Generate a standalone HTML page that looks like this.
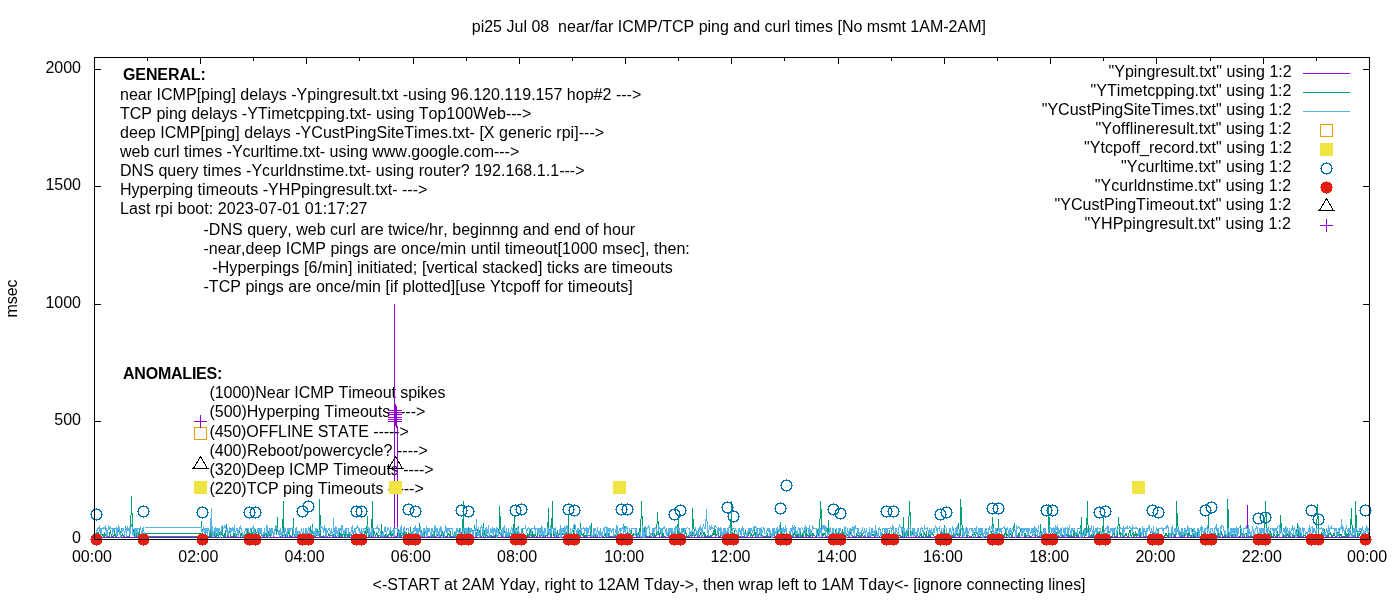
<!DOCTYPE html><html><head><meta charset="utf-8"><style>html,body{margin:0;padding:0;background:#fff;width:1400px;height:600px;overflow:hidden}text{font-family:"Liberation Sans",sans-serif;font-kerning:none;font-feature-settings:"kern" 0}</style></head><body><svg width="1400" height="600" viewBox="0 0 1400 600" style="position:absolute;left:0;top:0;will-change:transform"><defs><path id="mc" d="M0,-6h1v1h-1zM-3,-5h7v1h-7zM-4,-4h2v1h-2zM3,-4h2v1h-2zM-5,-3h2v1h-2zM4,-3h2v1h-2zM-5,-2h1v1h-1zM5,-2h1v1h-1zM-5,-1h1v1h-1zM5,-1h1v1h-1zM-6,0h2v1h-2zM5,0h2v1h-2zM-5,1h1v1h-1zM5,1h1v1h-1zM-5,2h1v1h-1zM5,2h1v1h-1zM-5,3h2v1h-2zM4,3h2v1h-2zM-4,4h2v1h-2zM3,4h2v1h-2zM-3,5h7v1h-7zM0,6h1v1h-1z" fill="#0072b2"/><path id="md" d="M0,-6h1v1h-1zM-3,-5h7v1h-7zM-4,-4h9v1h-9zM-5,-3h11v1h-11zM-5,-2h11v1h-11zM-5,-1h11v1h-11zM-6,0h13v1h-13zM-5,1h11v1h-11zM-5,2h11v1h-11zM-5,3h11v1h-11zM-4,4h9v1h-9zM-3,5h7v1h-7zM0,6h1v1h-1z" fill="#e51e10"/><path id="mfs" d="M-6,-6h13v1h-13zM-6,-5h13v1h-13zM-6,-4h13v1h-13zM-6,-3h13v1h-13zM-6,-2h13v1h-13zM-6,-1h13v1h-13zM-6,0h13v1h-13zM-6,1h13v1h-13zM-6,2h13v1h-13zM-6,3h13v1h-13zM-6,4h13v1h-13zM-6,5h13v1h-13zM-6,6h13v1h-13z" fill="#f0e442"/><path id="mos" d="M-6,-6h13v1h-13zM-6,-5h1v1h-1zM6,-5h1v1h-1zM-6,-4h1v1h-1zM6,-4h1v1h-1zM-6,-3h1v1h-1zM6,-3h1v1h-1zM-6,-2h1v1h-1zM6,-2h1v1h-1zM-6,-1h1v1h-1zM6,-1h1v1h-1zM-6,0h1v1h-1zM6,0h1v1h-1zM-6,1h1v1h-1zM6,1h1v1h-1zM-6,2h1v1h-1zM6,2h1v1h-1zM-6,3h1v1h-1zM6,3h1v1h-1zM-6,4h1v1h-1zM6,4h1v1h-1zM-6,5h1v1h-1zM6,5h1v1h-1zM-6,6h13v1h-13z" fill="#e69f00"/><path id="mp" d="M0,-6h1v1h-1zM0,-5h1v1h-1zM0,-4h1v1h-1zM0,-3h1v1h-1zM0,-2h1v1h-1zM0,-1h1v1h-1zM-6,0h13v1h-13zM0,1h1v1h-1zM0,2h1v1h-1zM0,3h1v1h-1zM0,4h1v1h-1zM0,5h1v1h-1zM0,6h1v1h-1z" fill="#9400d3"/><path id="mt" d="M0.5,-7.5 L-6.5,4.5 M0.5,-7.5 L7.5,4.5 M-8,4.5 L9,4.5" stroke="#000" stroke-width="1" fill="none"/></defs><text x="123.00" y="80.00" font-family="Liberation Sans" font-size="16" font-weight="bold" textLength="82.86" lengthAdjust="spacing" xml:space="preserve">GENERAL:</text><text x="120.00" y="99.50" font-family="Liberation Sans" font-size="16" textLength="521.26" lengthAdjust="spacing" xml:space="preserve">near ICMP[ping] delays -Ypingresult.txt -using 96.120.119.157 hop#2 ---&gt;</text><text x="120.00" y="118.65" font-family="Liberation Sans" font-size="16" textLength="411.28" lengthAdjust="spacing" xml:space="preserve">TCP ping delays -YTimetcpping.txt- using Top100Web---&gt;</text><text x="120.00" y="137.80" font-family="Liberation Sans" font-size="16" textLength="484.12" lengthAdjust="spacing" xml:space="preserve">deep ICMP[ping] delays -YCustPingSiteTimes.txt- [X generic rpi]---&gt;</text><text x="120.00" y="156.95" font-family="Liberation Sans" font-size="16" textLength="399.27" lengthAdjust="spacing" xml:space="preserve">web curl times -Ycurltime.txt- using www.google.com---&gt;</text><text x="120.00" y="176.10" font-family="Liberation Sans" font-size="16" textLength="464.57" lengthAdjust="spacing" xml:space="preserve">DNS query times -Ycurldnstime.txt- using router? 192.168.1.1---&gt;</text><text x="120.00" y="195.25" font-family="Liberation Sans" font-size="16" textLength="307.33" lengthAdjust="spacing" xml:space="preserve">Hyperping timeouts -YHPpingresult.txt- ---&gt;</text><text x="120.00" y="214.40" font-family="Liberation Sans" font-size="16" textLength="247.52" lengthAdjust="spacing" xml:space="preserve">Last rpi boot: 2023-07-01 01:17:27</text><text x="203.50" y="234.55" font-family="Liberation Sans" font-size="16" textLength="431.67" lengthAdjust="spacing" xml:space="preserve">-DNS query, web curl are twice/hr, beginnng and end of hour</text><text x="203.50" y="253.70" font-family="Liberation Sans" font-size="16" textLength="486.31" lengthAdjust="spacing" xml:space="preserve">-near,deep ICMP pings are once/min until timeout[1000 msec], then:</text><text x="212.30" y="272.85" font-family="Liberation Sans" font-size="16" textLength="460.40" lengthAdjust="spacing" xml:space="preserve">-Hyperpings [6/min] initiated; [vertical stacked] ticks are timeouts</text><text x="203.50" y="292.00" font-family="Liberation Sans" font-size="16" textLength="429.25" lengthAdjust="spacing" xml:space="preserve">-TCP pings are once/min [if plotted][use Ytcpoff for timeouts]</text><text x="123.00" y="379.00" font-family="Liberation Sans" font-size="16" font-weight="bold" textLength="99.33" lengthAdjust="spacing" xml:space="preserve">ANOMALIES:</text><text x="209.40" y="398.20" font-family="Liberation Sans" font-size="16" textLength="236.02" lengthAdjust="spacing" xml:space="preserve">(1000)Near ICMP Timeout spikes</text><text x="209.40" y="417.40" font-family="Liberation Sans" font-size="16" textLength="215.92" lengthAdjust="spacing" xml:space="preserve">(500)Hyperping Timeouts ----&gt;</text><text x="209.40" y="436.60" font-family="Liberation Sans" font-size="16" textLength="199.36" lengthAdjust="spacing" xml:space="preserve">(450)OFFLINE STATE -----&gt;</text><text x="209.40" y="455.80" font-family="Liberation Sans" font-size="16" textLength="218.32" lengthAdjust="spacing" xml:space="preserve">(400)Reboot/powercycle? ----&gt;</text><text x="209.40" y="475.00" font-family="Liberation Sans" font-size="16" textLength="224.29" lengthAdjust="spacing" xml:space="preserve">(320)Deep ICMP Timeouts ----&gt;</text><text x="209.40" y="494.20" font-family="Liberation Sans" font-size="16" textLength="214.32" lengthAdjust="spacing" xml:space="preserve">(220)TCP ping Timeouts -----&gt;</text><path d="M95,537.5 L1369,537.5" stroke="#9400d3" stroke-width="1" fill="none" shape-rendering="crispEdges"/><path d="M394.5,537.5 L394.5,304 M397.5,537.5 L397.5,426" stroke="#9400d3" stroke-width="1" fill="none" shape-rendering="crispEdges"/><path d="M1247.5,537.5 L1247.5,505" stroke="#9400d3" stroke-width="1" fill="none" shape-rendering="crispEdges"/><path d="M201.5,521.5 L202.5,535.5 L202.5,534.5 L203.5,535.5 L204.5,532.5 L204.5,534.5 L205.5,536.5 L205.5,536.5 L206.5,536.5 L207.5,535.5 L207.5,535.5 L208.5,536.5 L208.5,536.5 L209.5,536.5 L210.5,530.5 L210.5,536.5 L211.5,536.5 L211.5,533.5 L212.5,533.5 L212.5,536.5 L213.5,533.5 L214.5,536.5 L214.5,532.5 L215.5,536.5 L215.5,529.5 L216.5,536.5 L217.5,534.5 L217.5,533.5 L218.5,536.5 L218.5,536.5 L219.5,533.5 L220.5,536.5 L220.5,535.5 L221.5,534.5 L221.5,534.5 L222.5,529.5 L222.5,534.5 L223.5,536.5 L224.5,533.5 L224.5,536.5 L225.5,536.5 L225.5,535.5 L226.5,524.5 L227.5,534.5 L227.5,536.5 L228.5,534.5 L228.5,536.5 L229.5,530.5 L230.5,535.5 L230.5,536.5 L231.5,536.5 L231.5,536.5 L232.5,536.5 L233.5,536.5 L233.5,534.5 L234.5,533.5 L234.5,536.5 L235.5,536.5 L235.5,536.5 L236.5,536.5 L237.5,531.5 L237.5,532.5 L238.5,530.5 L238.5,536.5 L239.5,529.5 L240.5,536.5 L240.5,536.5 L241.5,533.5 L241.5,534.5 L242.5,536.5 L243.5,534.5 L243.5,536.5 L244.5,535.5 L244.5,536.5 L245.5,536.5 L246.5,531.5 L246.5,536.5 L247.5,528.5 L247.5,536.5 L248.5,532.5 L248.5,529.5 L249.5,535.5 L250.5,533.5 L250.5,536.5 L251.5,529.5 L251.5,536.5 L252.5,533.5 L253.5,536.5 L253.5,528.5 L254.5,536.5 L254.5,529.5 L255.5,529.5 L256.5,535.5 L256.5,536.5 L257.5,535.5 L257.5,536.5 L258.5,532.5 L259.5,532.5 L259.5,535.5 L260.5,536.5 L260.5,536.5 L261.5,535.5 L261.5,535.5 L262.5,536.5 L263.5,534.5 L263.5,536.5 L264.5,536.5 L264.5,533.5 L265.5,534.5 L266.5,536.5 L266.5,533.5 L267.5,536.5 L267.5,535.5 L268.5,532.5 L269.5,529.5 L269.5,535.5 L270.5,529.5 L270.5,536.5 L271.5,535.5 L271.5,534.5 L272.5,531.5 L273.5,533.5 L273.5,536.5 L274.5,533.5 L274.5,534.5 L275.5,527.5 L276.5,534.5 L276.5,534.5 L277.5,517.5 L277.5,530.5 L278.5,533.5 L279.5,535.5 L279.5,536.5 L280.5,536.5 L280.5,536.5 L281.5,535.5 L282.5,536.5 L282.5,536.5 L283.5,501.5 L283.5,528.5 L284.5,536.5 L284.5,530.5 L285.5,536.5 L286.5,536.5 L286.5,536.5 L287.5,536.5 L287.5,535.5 L288.5,531.5 L289.5,529.5 L289.5,536.5 L290.5,536.5 L290.5,535.5 L291.5,536.5 L292.5,536.5 L292.5,536.5 L293.5,518.5 L293.5,532.5 L294.5,536.5 L295.5,536.5 L295.5,534.5 L296.5,534.5 L296.5,536.5 L297.5,536.5 L297.5,532.5 L298.5,536.5 L299.5,536.5 L299.5,532.5 L300.5,536.5 L300.5,536.5 L301.5,536.5 L302.5,535.5 L302.5,536.5 L303.5,536.5 L303.5,531.5 L304.5,536.5 L305.5,535.5 L305.5,533.5 L306.5,534.5 L306.5,530.5 L307.5,536.5 L308.5,536.5 L308.5,536.5 L309.5,533.5 L309.5,535.5 L310.5,526.5 L310.5,535.5 L311.5,531.5 L312.5,533.5 L312.5,524.5 L313.5,536.5 L313.5,536.5 L314.5,536.5 L315.5,534.5 L315.5,536.5 L316.5,534.5 L316.5,535.5 L317.5,529.5 L318.5,533.5 L318.5,535.5 L319.5,536.5 L319.5,499.5 L320.5,529.5 L320.5,536.5 L321.5,536.5 L322.5,536.5 L322.5,536.5 L323.5,536.5 L323.5,535.5 L324.5,536.5 L325.5,535.5 L325.5,534.5 L326.5,536.5 L326.5,536.5 L327.5,536.5 L328.5,535.5 L328.5,533.5 L329.5,535.5 L329.5,536.5 L330.5,535.5 L331.5,535.5 L331.5,535.5 L332.5,535.5 L332.5,536.5 L333.5,536.5 L333.5,534.5 L334.5,535.5 L335.5,532.5 L335.5,536.5 L336.5,536.5 L336.5,536.5 L337.5,535.5 L338.5,534.5 L338.5,536.5 L339.5,536.5 L339.5,529.5 L340.5,536.5 L341.5,536.5 L341.5,533.5 L342.5,536.5 L342.5,536.5 L343.5,532.5 L344.5,536.5 L344.5,536.5 L345.5,536.5 L345.5,534.5 L346.5,529.5 L346.5,533.5 L347.5,536.5 L348.5,532.5 L348.5,536.5 L349.5,532.5 L349.5,536.5 L350.5,535.5 L351.5,536.5 L351.5,534.5 L352.5,536.5 L352.5,536.5 L353.5,535.5 L354.5,536.5 L354.5,535.5 L355.5,534.5 L355.5,535.5 L356.5,536.5 L356.5,535.5 L357.5,534.5 L358.5,536.5 L358.5,536.5 L359.5,536.5 L359.5,536.5 L360.5,536.5 L361.5,533.5 L361.5,533.5 L362.5,535.5 L362.5,534.5 L363.5,536.5 L364.5,531.5 L364.5,533.5 L365.5,533.5 L365.5,531.5 L366.5,536.5 L367.5,516.5 L367.5,532.5 L368.5,533.5 L368.5,536.5 L369.5,536.5 L369.5,535.5 L370.5,535.5 L371.5,535.5 L371.5,536.5 L372.5,501.5 L372.5,521.5 L373.5,536.5 L374.5,531.5 L374.5,533.5 L375.5,534.5 L375.5,536.5 L376.5,533.5 L377.5,536.5 L377.5,533.5 L378.5,536.5 L378.5,536.5 L379.5,535.5 L380.5,536.5 L380.5,534.5 L381.5,535.5 L381.5,524.5 L382.5,536.5 L382.5,536.5 L383.5,534.5 L384.5,536.5 L384.5,535.5 L385.5,534.5 L385.5,536.5 L386.5,536.5 L387.5,536.5 L387.5,536.5 L388.5,534.5 L388.5,536.5 L389.5,533.5 L390.5,535.5 L390.5,530.5 L391.5,533.5 L391.5,536.5 L392.5,535.5 L393.5,530.5 L393.5,536.5 L394.5,534.5 L394.5,536.5 L395.5,536.5 L395.5,536.5 L396.5,536.5 L397.5,536.5 L397.5,536.5 L398.5,535.5 L398.5,529.5 L399.5,536.5 L400.5,533.5 L400.5,536.5 L401.5,536.5 L401.5,536.5 L402.5,533.5 L403.5,536.5 L403.5,531.5 L404.5,532.5 L404.5,536.5 L405.5,536.5 L405.5,536.5 L406.5,533.5 L407.5,536.5 L407.5,536.5 L408.5,534.5 L408.5,532.5 L409.5,534.5 L410.5,536.5 L410.5,527.5 L411.5,536.5 L411.5,535.5 L412.5,536.5 L413.5,532.5 L413.5,534.5 L414.5,536.5 L414.5,534.5 L415.5,535.5 L416.5,533.5 L416.5,534.5 L417.5,534.5 L417.5,536.5 L418.5,535.5 L418.5,536.5 L419.5,523.5 L420.5,533.5 L420.5,533.5 L421.5,535.5 L421.5,530.5 L422.5,536.5 L423.5,530.5 L423.5,534.5 L424.5,531.5 L424.5,536.5 L425.5,531.5 L426.5,536.5 L426.5,535.5 L427.5,536.5 L427.5,535.5 L428.5,536.5 L429.5,536.5 L429.5,536.5 L430.5,536.5 L430.5,533.5 L431.5,536.5 L431.5,534.5 L432.5,536.5 L433.5,532.5 L433.5,536.5 L434.5,530.5 L434.5,536.5 L435.5,536.5 L436.5,536.5 L436.5,536.5 L437.5,534.5 L437.5,534.5 L438.5,534.5 L439.5,530.5 L439.5,535.5 L440.5,536.5 L440.5,535.5 L441.5,535.5 L442.5,531.5 L442.5,531.5 L443.5,536.5 L443.5,536.5 L444.5,536.5 L444.5,536.5 L445.5,536.5 L446.5,536.5 L446.5,536.5 L447.5,536.5 L447.5,533.5 L448.5,533.5 L449.5,536.5 L449.5,536.5 L450.5,531.5 L450.5,536.5 L451.5,536.5 L452.5,536.5 L452.5,536.5 L453.5,535.5 L453.5,536.5 L454.5,532.5 L454.5,533.5 L455.5,536.5 L456.5,533.5 L456.5,530.5 L457.5,536.5 L457.5,536.5 L458.5,536.5 L459.5,528.5 L459.5,536.5 L460.5,536.5 L460.5,536.5 L461.5,533.5 L462.5,535.5 L462.5,536.5 L463.5,501.5 L463.5,523.5 L464.5,536.5 L465.5,535.5 L465.5,532.5 L466.5,536.5 L466.5,536.5 L467.5,532.5 L467.5,536.5 L468.5,527.5 L469.5,531.5 L469.5,534.5 L470.5,536.5 L470.5,536.5 L471.5,528.5 L472.5,535.5 L472.5,530.5 L473.5,536.5 L473.5,535.5 L474.5,525.5 L475.5,536.5 L475.5,536.5 L476.5,536.5 L476.5,533.5 L477.5,530.5 L478.5,535.5 L478.5,529.5 L479.5,530.5 L479.5,536.5 L480.5,534.5 L480.5,536.5 L481.5,536.5 L482.5,535.5 L482.5,529.5 L483.5,536.5 L483.5,523.5 L484.5,536.5 L485.5,536.5 L485.5,535.5 L486.5,535.5 L486.5,533.5 L487.5,536.5 L488.5,536.5 L488.5,536.5 L489.5,536.5 L489.5,534.5 L490.5,536.5 L491.5,536.5 L491.5,535.5 L492.5,536.5 L492.5,536.5 L493.5,536.5 L493.5,533.5 L494.5,536.5 L495.5,536.5 L495.5,533.5 L496.5,536.5 L496.5,534.5 L497.5,536.5 L498.5,534.5 L498.5,529.5 L499.5,533.5 L499.5,506.5 L500.5,525.5 L501.5,533.5 L501.5,536.5 L502.5,536.5 L502.5,530.5 L503.5,533.5 L503.5,536.5 L504.5,529.5 L505.5,536.5 L505.5,532.5 L506.5,533.5 L506.5,536.5 L507.5,536.5 L508.5,536.5 L508.5,532.5 L509.5,536.5 L509.5,534.5 L510.5,532.5 L511.5,534.5 L511.5,535.5 L512.5,536.5 L512.5,536.5 L513.5,531.5 L514.5,516.5 L514.5,531.5 L515.5,536.5 L515.5,536.5 L516.5,536.5 L516.5,528.5 L517.5,536.5 L518.5,526.5 L518.5,533.5 L519.5,534.5 L519.5,533.5 L520.5,533.5 L521.5,535.5 L521.5,536.5 L522.5,530.5 L522.5,529.5 L523.5,536.5 L524.5,536.5 L524.5,534.5 L525.5,536.5 L525.5,536.5 L526.5,535.5 L527.5,536.5 L527.5,533.5 L528.5,534.5 L528.5,536.5 L529.5,536.5 L529.5,535.5 L530.5,529.5 L531.5,536.5 L531.5,534.5 L532.5,536.5 L532.5,531.5 L533.5,536.5 L534.5,535.5 L534.5,536.5 L535.5,532.5 L535.5,535.5 L536.5,536.5 L537.5,535.5 L537.5,536.5 L538.5,528.5 L538.5,531.5 L539.5,536.5 L540.5,536.5 L540.5,534.5 L541.5,532.5 L541.5,535.5 L542.5,533.5 L542.5,536.5 L543.5,536.5 L544.5,530.5 L544.5,533.5 L545.5,536.5 L545.5,536.5 L546.5,535.5 L547.5,536.5 L547.5,536.5 L548.5,508.5 L548.5,522.5 L549.5,534.5 L550.5,531.5 L550.5,536.5 L551.5,536.5 L551.5,534.5 L552.5,501.5 L552.5,520.5 L553.5,534.5 L554.5,536.5 L554.5,533.5 L555.5,530.5 L555.5,533.5 L556.5,536.5 L557.5,530.5 L557.5,536.5 L558.5,536.5 L558.5,536.5 L559.5,533.5 L560.5,534.5 L560.5,533.5 L561.5,528.5 L561.5,535.5 L562.5,534.5 L563.5,531.5 L563.5,534.5 L564.5,535.5 L564.5,533.5 L565.5,536.5 L565.5,533.5 L566.5,535.5 L567.5,529.5 L567.5,536.5 L568.5,516.5 L568.5,533.5 L569.5,534.5 L570.5,536.5 L570.5,535.5 L571.5,536.5 L571.5,536.5 L572.5,536.5 L573.5,535.5 L573.5,535.5 L574.5,524.5 L574.5,535.5 L575.5,534.5 L576.5,534.5 L576.5,536.5 L577.5,536.5 L577.5,529.5 L578.5,536.5 L578.5,529.5 L579.5,536.5 L580.5,523.5 L580.5,536.5 L581.5,532.5 L581.5,533.5 L582.5,535.5 L583.5,536.5 L583.5,533.5 L584.5,536.5 L584.5,536.5 L585.5,536.5 L586.5,534.5 L586.5,536.5 L587.5,533.5 L587.5,536.5 L588.5,535.5 L588.5,535.5 L589.5,535.5 L590.5,534.5 L590.5,536.5 L591.5,523.5 L591.5,534.5 L592.5,536.5 L593.5,534.5 L593.5,536.5 L594.5,536.5 L594.5,530.5 L595.5,536.5 L596.5,533.5 L596.5,536.5 L597.5,536.5 L597.5,536.5 L598.5,533.5 L599.5,534.5 L599.5,536.5 L600.5,534.5 L600.5,534.5 L601.5,536.5 L601.5,536.5 L602.5,536.5 L603.5,536.5 L603.5,536.5 L604.5,535.5 L604.5,534.5 L605.5,536.5 L606.5,529.5 L606.5,536.5 L607.5,531.5 L607.5,528.5 L608.5,536.5 L609.5,536.5 L609.5,536.5 L610.5,536.5 L610.5,536.5 L611.5,536.5 L612.5,536.5 L612.5,536.5 L613.5,535.5 L613.5,536.5 L614.5,536.5 L614.5,536.5 L615.5,536.5 L616.5,534.5 L616.5,534.5 L617.5,536.5 L617.5,530.5 L618.5,532.5 L619.5,536.5 L619.5,536.5 L620.5,531.5 L620.5,536.5 L621.5,536.5 L622.5,535.5 L622.5,536.5 L623.5,533.5 L623.5,524.5 L624.5,528.5 L625.5,529.5 L625.5,533.5 L626.5,536.5 L626.5,536.5 L627.5,529.5 L627.5,536.5 L628.5,536.5 L629.5,536.5 L629.5,533.5 L630.5,533.5 L630.5,536.5 L631.5,530.5 L632.5,536.5 L632.5,534.5 L633.5,533.5 L633.5,535.5 L634.5,534.5 L635.5,534.5 L635.5,529.5 L636.5,534.5 L636.5,536.5 L637.5,533.5 L637.5,536.5 L638.5,536.5 L639.5,528.5 L639.5,536.5 L640.5,534.5 L640.5,536.5 L641.5,501.5 L642.5,529.5 L642.5,534.5 L643.5,536.5 L643.5,536.5 L644.5,527.5 L645.5,534.5 L645.5,536.5 L646.5,529.5 L646.5,536.5 L647.5,536.5 L648.5,536.5 L648.5,536.5 L649.5,535.5 L649.5,536.5 L650.5,533.5 L650.5,536.5 L651.5,536.5 L652.5,535.5 L652.5,533.5 L653.5,536.5 L653.5,529.5 L654.5,536.5 L655.5,536.5 L655.5,536.5 L656.5,534.5 L656.5,535.5 L657.5,512.5 L658.5,528.5 L658.5,534.5 L659.5,533.5 L659.5,536.5 L660.5,530.5 L661.5,536.5 L661.5,536.5 L662.5,536.5 L662.5,528.5 L663.5,536.5 L663.5,536.5 L664.5,536.5 L665.5,536.5 L665.5,536.5 L666.5,535.5 L666.5,535.5 L667.5,533.5 L668.5,536.5 L668.5,533.5 L669.5,536.5 L669.5,536.5 L670.5,528.5 L671.5,534.5 L671.5,536.5 L672.5,536.5 L672.5,535.5 L673.5,536.5 L674.5,535.5 L674.5,535.5 L675.5,536.5 L675.5,536.5 L676.5,536.5 L676.5,536.5 L677.5,532.5 L678.5,516.5 L678.5,535.5 L679.5,536.5 L679.5,531.5 L680.5,535.5 L681.5,535.5 L681.5,535.5 L682.5,536.5 L682.5,536.5 L683.5,528.5 L684.5,533.5 L684.5,536.5 L685.5,531.5 L685.5,528.5 L686.5,536.5 L686.5,535.5 L687.5,536.5 L688.5,536.5 L688.5,535.5 L689.5,536.5 L689.5,529.5 L690.5,534.5 L691.5,532.5 L691.5,536.5 L692.5,534.5 L692.5,508.5 L693.5,528.5 L694.5,529.5 L694.5,536.5 L695.5,535.5 L695.5,535.5 L696.5,533.5 L697.5,536.5 L697.5,531.5 L698.5,536.5 L698.5,536.5 L699.5,536.5 L699.5,536.5 L700.5,533.5 L701.5,536.5 L701.5,534.5 L702.5,536.5 L702.5,536.5 L703.5,533.5 L704.5,536.5 L704.5,532.5 L705.5,536.5 L705.5,535.5 L706.5,536.5 L707.5,536.5 L707.5,535.5 L708.5,536.5 L708.5,536.5 L709.5,536.5 L710.5,536.5 L710.5,535.5 L711.5,536.5 L711.5,536.5 L712.5,533.5 L712.5,535.5 L713.5,534.5 L714.5,526.5 L714.5,534.5 L715.5,529.5 L715.5,536.5 L716.5,534.5 L717.5,533.5 L717.5,529.5 L718.5,536.5 L718.5,536.5 L719.5,536.5 L720.5,536.5 L720.5,535.5 L721.5,533.5 L721.5,532.5 L722.5,536.5 L723.5,530.5 L723.5,536.5 L724.5,536.5 L724.5,536.5 L725.5,532.5 L725.5,534.5 L726.5,535.5 L727.5,535.5 L727.5,536.5 L728.5,530.5 L728.5,536.5 L729.5,536.5 L730.5,534.5 L730.5,536.5 L731.5,501.5 L731.5,528.5 L732.5,535.5 L733.5,533.5 L733.5,536.5 L734.5,536.5 L734.5,530.5 L735.5,536.5 L735.5,534.5 L736.5,536.5 L737.5,536.5 L737.5,534.5 L738.5,532.5 L738.5,536.5 L739.5,536.5 L740.5,536.5 L740.5,536.5 L741.5,536.5 L741.5,536.5 L742.5,536.5 L743.5,536.5 L743.5,536.5 L744.5,536.5 L744.5,534.5 L745.5,530.5 L746.5,536.5 L746.5,534.5 L747.5,536.5 L747.5,532.5 L748.5,534.5 L748.5,535.5 L749.5,530.5 L750.5,536.5 L750.5,536.5 L751.5,534.5 L751.5,534.5 L752.5,536.5 L753.5,535.5 L753.5,534.5 L754.5,534.5 L754.5,527.5 L755.5,536.5 L756.5,536.5 L756.5,533.5 L757.5,533.5 L757.5,533.5 L758.5,536.5 L759.5,531.5 L759.5,534.5 L760.5,532.5 L760.5,536.5 L761.5,531.5 L761.5,534.5 L762.5,536.5 L763.5,536.5 L763.5,536.5 L764.5,536.5 L764.5,536.5 L765.5,536.5 L766.5,536.5 L766.5,536.5 L767.5,533.5 L767.5,536.5 L768.5,536.5 L769.5,536.5 L769.5,534.5 L770.5,536.5 L770.5,534.5 L771.5,535.5 L772.5,536.5 L772.5,534.5 L773.5,535.5 L773.5,530.5 L774.5,536.5 L774.5,536.5 L775.5,536.5 L776.5,536.5 L776.5,533.5 L777.5,529.5 L777.5,536.5 L778.5,536.5 L779.5,536.5 L779.5,536.5 L780.5,536.5 L780.5,522.5 L781.5,533.5 L782.5,536.5 L782.5,531.5 L783.5,534.5 L783.5,536.5 L784.5,536.5 L784.5,534.5 L785.5,536.5 L786.5,536.5 L786.5,535.5 L787.5,536.5 L787.5,536.5 L788.5,536.5 L789.5,536.5 L789.5,536.5 L790.5,531.5 L790.5,536.5 L791.5,535.5 L792.5,536.5 L792.5,533.5 L793.5,536.5 L793.5,533.5 L794.5,534.5 L795.5,527.5 L795.5,536.5 L796.5,536.5 L796.5,534.5 L797.5,534.5 L797.5,536.5 L798.5,536.5 L799.5,532.5 L799.5,536.5 L800.5,532.5 L800.5,536.5 L801.5,536.5 L802.5,533.5 L802.5,536.5 L803.5,536.5 L803.5,535.5 L804.5,529.5 L805.5,536.5 L805.5,534.5 L806.5,529.5 L806.5,536.5 L807.5,534.5 L808.5,535.5 L808.5,536.5 L809.5,533.5 L809.5,536.5 L810.5,536.5 L810.5,533.5 L811.5,534.5 L812.5,536.5 L812.5,533.5 L813.5,533.5 L813.5,535.5 L814.5,535.5 L815.5,536.5 L815.5,536.5 L816.5,536.5 L816.5,535.5 L817.5,529.5 L818.5,535.5 L818.5,535.5 L819.5,535.5 L819.5,536.5 L820.5,501.5 L821.5,516.5 L821.5,536.5 L822.5,533.5 L822.5,536.5 L823.5,534.5 L823.5,533.5 L824.5,533.5 L825.5,536.5 L825.5,535.5 L826.5,536.5 L826.5,536.5 L827.5,535.5 L828.5,520.5 L828.5,532.5 L829.5,536.5 L829.5,533.5 L830.5,534.5 L831.5,536.5 L831.5,535.5 L832.5,533.5 L832.5,534.5 L833.5,530.5 L833.5,534.5 L834.5,535.5 L835.5,535.5 L835.5,529.5 L836.5,534.5 L836.5,536.5 L837.5,536.5 L838.5,532.5 L838.5,530.5 L839.5,536.5 L839.5,534.5 L840.5,536.5 L841.5,536.5 L841.5,536.5 L842.5,529.5 L842.5,536.5 L843.5,533.5 L844.5,535.5 L844.5,534.5 L845.5,531.5 L845.5,536.5 L846.5,536.5 L846.5,536.5 L847.5,534.5 L848.5,535.5 L848.5,536.5 L849.5,535.5 L849.5,536.5 L850.5,532.5 L851.5,529.5 L851.5,533.5 L852.5,536.5 L852.5,536.5 L853.5,536.5 L854.5,535.5 L854.5,536.5 L855.5,536.5 L855.5,536.5 L856.5,536.5 L857.5,530.5 L857.5,534.5 L858.5,536.5 L858.5,536.5 L859.5,536.5 L859.5,534.5 L860.5,536.5 L861.5,536.5 L861.5,531.5 L862.5,535.5 L862.5,535.5 L863.5,536.5 L864.5,535.5 L864.5,536.5 L865.5,536.5 L865.5,533.5 L866.5,530.5 L867.5,533.5 L867.5,536.5 L868.5,534.5 L868.5,536.5 L869.5,536.5 L869.5,531.5 L870.5,535.5 L871.5,532.5 L871.5,534.5 L872.5,535.5 L872.5,534.5 L873.5,535.5 L874.5,533.5 L874.5,536.5 L875.5,529.5 L875.5,536.5 L876.5,531.5 L877.5,535.5 L877.5,536.5 L878.5,536.5 L878.5,536.5 L879.5,536.5 L880.5,535.5 L880.5,529.5 L881.5,536.5 L881.5,534.5 L882.5,536.5 L882.5,533.5 L883.5,536.5 L884.5,535.5 L884.5,536.5 L885.5,534.5 L885.5,533.5 L886.5,535.5 L887.5,536.5 L887.5,536.5 L888.5,536.5 L888.5,534.5 L889.5,531.5 L890.5,536.5 L890.5,536.5 L891.5,533.5 L891.5,533.5 L892.5,535.5 L893.5,536.5 L893.5,536.5 L894.5,536.5 L894.5,534.5 L895.5,536.5 L895.5,534.5 L896.5,536.5 L897.5,536.5 L897.5,534.5 L898.5,536.5 L898.5,535.5 L899.5,534.5 L900.5,536.5 L900.5,536.5 L901.5,536.5 L901.5,536.5 L902.5,536.5 L903.5,517.5 L903.5,526.5 L904.5,536.5 L904.5,533.5 L905.5,532.5 L906.5,536.5 L906.5,530.5 L907.5,534.5 L907.5,534.5 L908.5,536.5 L908.5,532.5 L909.5,501.5 L910.5,522.5 L910.5,535.5 L911.5,536.5 L911.5,534.5 L912.5,534.5 L913.5,530.5 L913.5,536.5 L914.5,535.5 L914.5,533.5 L915.5,536.5 L916.5,536.5 L916.5,536.5 L917.5,529.5 L917.5,535.5 L918.5,536.5 L918.5,536.5 L919.5,536.5 L920.5,534.5 L920.5,530.5 L921.5,535.5 L921.5,536.5 L922.5,536.5 L923.5,536.5 L923.5,536.5 L924.5,533.5 L924.5,533.5 L925.5,536.5 L926.5,531.5 L926.5,536.5 L927.5,536.5 L927.5,536.5 L928.5,536.5 L929.5,528.5 L929.5,536.5 L930.5,534.5 L930.5,536.5 L931.5,533.5 L931.5,529.5 L932.5,534.5 L933.5,534.5 L933.5,535.5 L934.5,536.5 L934.5,536.5 L935.5,536.5 L936.5,535.5 L936.5,536.5 L937.5,536.5 L937.5,533.5 L938.5,536.5 L939.5,535.5 L939.5,536.5 L940.5,536.5 L940.5,531.5 L941.5,533.5 L942.5,536.5 L942.5,534.5 L943.5,534.5 L943.5,534.5 L944.5,525.5 L944.5,535.5 L945.5,533.5 L946.5,532.5 L946.5,536.5 L947.5,534.5 L947.5,534.5 L948.5,536.5 L949.5,536.5 L949.5,536.5 L950.5,536.5 L950.5,536.5 L951.5,535.5 L952.5,536.5 L952.5,536.5 L953.5,533.5 L953.5,536.5 L954.5,536.5 L955.5,536.5 L955.5,531.5 L956.5,533.5 L956.5,534.5 L957.5,535.5 L957.5,535.5 L958.5,523.5 L959.5,534.5 L959.5,536.5 L960.5,535.5 L960.5,499.5 L961.5,513.5 L962.5,536.5 L962.5,536.5 L963.5,532.5 L963.5,536.5 L964.5,533.5 L965.5,533.5 L965.5,531.5 L966.5,536.5 L966.5,535.5 L967.5,535.5 L967.5,536.5 L968.5,535.5 L969.5,536.5 L969.5,536.5 L970.5,536.5 L970.5,536.5 L971.5,536.5 L972.5,535.5 L972.5,534.5 L973.5,536.5 L973.5,536.5 L974.5,533.5 L975.5,536.5 L975.5,536.5 L976.5,531.5 L976.5,530.5 L977.5,534.5 L978.5,536.5 L978.5,535.5 L979.5,536.5 L979.5,536.5 L980.5,536.5 L980.5,535.5 L981.5,532.5 L982.5,536.5 L982.5,536.5 L983.5,536.5 L983.5,536.5 L984.5,536.5 L985.5,536.5 L985.5,536.5 L986.5,536.5 L986.5,536.5 L987.5,535.5 L988.5,536.5 L988.5,533.5 L989.5,534.5 L989.5,536.5 L990.5,536.5 L991.5,536.5 L991.5,532.5 L992.5,530.5 L992.5,517.5 L993.5,529.5 L993.5,532.5 L994.5,536.5 L995.5,535.5 L995.5,536.5 L996.5,536.5 L996.5,536.5 L997.5,536.5 L998.5,519.5 L998.5,529.5 L999.5,530.5 L999.5,533.5 L1000.5,530.5 L1001.5,533.5 L1001.5,536.5 L1002.5,535.5 L1002.5,534.5 L1003.5,535.5 L1004.5,536.5 L1004.5,533.5 L1005.5,534.5 L1005.5,529.5 L1006.5,536.5 L1006.5,536.5 L1007.5,535.5 L1008.5,533.5 L1008.5,534.5 L1009.5,536.5 L1009.5,536.5 L1010.5,533.5 L1011.5,533.5 L1011.5,536.5 L1012.5,536.5 L1012.5,535.5 L1013.5,528.5 L1014.5,523.5 L1014.5,529.5 L1015.5,532.5 L1015.5,536.5 L1016.5,533.5 L1016.5,536.5 L1017.5,536.5 L1018.5,533.5 L1018.5,536.5 L1019.5,536.5 L1019.5,535.5 L1020.5,528.5 L1021.5,533.5 L1021.5,531.5 L1022.5,531.5 L1022.5,534.5 L1023.5,529.5 L1024.5,536.5 L1024.5,534.5 L1025.5,536.5 L1025.5,533.5 L1026.5,536.5 L1027.5,535.5 L1027.5,535.5 L1028.5,530.5 L1028.5,534.5 L1029.5,535.5 L1029.5,536.5 L1030.5,536.5 L1031.5,536.5 L1031.5,536.5 L1032.5,535.5 L1032.5,533.5 L1033.5,534.5 L1034.5,535.5 L1034.5,536.5 L1035.5,536.5 L1035.5,534.5 L1036.5,535.5 L1037.5,535.5 L1037.5,536.5 L1038.5,536.5 L1038.5,536.5 L1039.5,536.5 L1040.5,533.5 L1040.5,524.5 L1041.5,536.5 L1041.5,536.5 L1042.5,534.5 L1042.5,536.5 L1043.5,536.5 L1044.5,536.5 L1044.5,536.5 L1045.5,536.5 L1045.5,534.5 L1046.5,533.5 L1047.5,534.5 L1047.5,536.5 L1048.5,535.5 L1048.5,504.5 L1049.5,529.5 L1050.5,536.5 L1050.5,533.5 L1051.5,534.5 L1051.5,536.5 L1052.5,536.5 L1053.5,533.5 L1053.5,536.5 L1054.5,532.5 L1054.5,531.5 L1055.5,536.5 L1055.5,535.5 L1056.5,533.5 L1057.5,536.5 L1057.5,533.5 L1058.5,536.5 L1058.5,536.5 L1059.5,536.5 L1060.5,535.5 L1060.5,535.5 L1061.5,534.5 L1061.5,532.5 L1062.5,536.5 L1063.5,535.5 L1063.5,536.5 L1064.5,536.5 L1064.5,534.5 L1065.5,536.5 L1065.5,535.5 L1066.5,534.5 L1067.5,536.5 L1067.5,534.5 L1068.5,536.5 L1068.5,534.5 L1069.5,536.5 L1070.5,536.5 L1070.5,534.5 L1071.5,535.5 L1071.5,536.5 L1072.5,536.5 L1073.5,536.5 L1073.5,530.5 L1074.5,534.5 L1074.5,536.5 L1075.5,533.5 L1076.5,534.5 L1076.5,536.5 L1077.5,536.5 L1077.5,535.5 L1078.5,536.5 L1078.5,536.5 L1079.5,532.5 L1080.5,529.5 L1080.5,532.5 L1081.5,517.5 L1081.5,530.5 L1082.5,536.5 L1083.5,530.5 L1083.5,534.5 L1084.5,536.5 L1084.5,536.5 L1085.5,534.5 L1086.5,522.5 L1086.5,535.5 L1087.5,501.5 L1087.5,513.5 L1088.5,536.5 L1089.5,531.5 L1089.5,536.5 L1090.5,536.5 L1090.5,535.5 L1091.5,536.5 L1091.5,534.5 L1092.5,536.5 L1093.5,536.5 L1093.5,536.5 L1094.5,531.5 L1094.5,536.5 L1095.5,536.5 L1096.5,533.5 L1096.5,534.5 L1097.5,536.5 L1097.5,533.5 L1098.5,533.5 L1099.5,531.5 L1099.5,536.5 L1100.5,536.5 L1100.5,536.5 L1101.5,536.5 L1101.5,536.5 L1102.5,536.5 L1103.5,516.5 L1103.5,531.5 L1104.5,536.5 L1104.5,532.5 L1105.5,536.5 L1106.5,534.5 L1106.5,533.5 L1107.5,536.5 L1107.5,530.5 L1108.5,529.5 L1109.5,535.5 L1109.5,536.5 L1110.5,536.5 L1110.5,536.5 L1111.5,536.5 L1112.5,536.5 L1112.5,535.5 L1113.5,534.5 L1113.5,534.5 L1114.5,531.5 L1114.5,536.5 L1115.5,536.5 L1116.5,536.5 L1116.5,536.5 L1117.5,536.5 L1117.5,535.5 L1118.5,517.5 L1119.5,530.5 L1119.5,533.5 L1120.5,536.5 L1120.5,532.5 L1121.5,533.5 L1122.5,536.5 L1122.5,536.5 L1123.5,536.5 L1123.5,533.5 L1124.5,536.5 L1125.5,534.5 L1125.5,533.5 L1126.5,533.5 L1126.5,535.5 L1127.5,536.5 L1127.5,536.5 L1128.5,536.5 L1129.5,530.5 L1129.5,530.5 L1130.5,530.5 L1130.5,534.5 L1131.5,536.5 L1132.5,533.5 L1132.5,533.5 L1133.5,536.5 L1133.5,532.5 L1134.5,536.5 L1135.5,534.5 L1135.5,531.5 L1136.5,534.5 L1136.5,536.5 L1137.5,534.5 L1138.5,535.5 L1138.5,533.5 L1139.5,536.5 L1139.5,528.5 L1140.5,533.5 L1140.5,536.5 L1141.5,533.5 L1142.5,532.5 L1142.5,531.5 L1143.5,536.5 L1143.5,536.5 L1144.5,536.5 L1145.5,536.5 L1145.5,536.5 L1146.5,534.5 L1146.5,536.5 L1147.5,536.5 L1148.5,536.5 L1148.5,536.5 L1149.5,536.5 L1149.5,536.5 L1150.5,535.5 L1150.5,534.5 L1151.5,536.5 L1152.5,535.5 L1152.5,535.5 L1153.5,533.5 L1153.5,536.5 L1154.5,534.5 L1155.5,536.5 L1155.5,536.5 L1156.5,534.5 L1156.5,536.5 L1157.5,529.5 L1158.5,535.5 L1158.5,536.5 L1159.5,536.5 L1159.5,536.5 L1160.5,536.5 L1161.5,536.5 L1161.5,536.5 L1162.5,536.5 L1162.5,536.5 L1163.5,536.5 L1163.5,536.5 L1164.5,536.5 L1165.5,533.5 L1165.5,535.5 L1166.5,535.5 L1166.5,533.5 L1167.5,536.5 L1168.5,533.5 L1168.5,536.5 L1169.5,536.5 L1169.5,535.5 L1170.5,536.5 L1171.5,534.5 L1171.5,536.5 L1172.5,526.5 L1172.5,532.5 L1173.5,536.5 L1174.5,536.5 L1174.5,535.5 L1175.5,533.5 L1175.5,536.5 L1176.5,532.5 L1176.5,501.5 L1177.5,523.5 L1178.5,530.5 L1178.5,529.5 L1179.5,535.5 L1179.5,536.5 L1180.5,533.5 L1181.5,536.5 L1181.5,534.5 L1182.5,536.5 L1182.5,536.5 L1183.5,536.5 L1184.5,536.5 L1184.5,533.5 L1185.5,533.5 L1185.5,535.5 L1186.5,530.5 L1187.5,536.5 L1187.5,533.5 L1188.5,536.5 L1188.5,530.5 L1189.5,533.5 L1189.5,534.5 L1190.5,536.5 L1191.5,536.5 L1191.5,536.5 L1192.5,533.5 L1192.5,529.5 L1193.5,536.5 L1194.5,533.5 L1194.5,536.5 L1195.5,536.5 L1195.5,535.5 L1196.5,536.5 L1197.5,530.5 L1197.5,536.5 L1198.5,533.5 L1198.5,536.5 L1199.5,536.5 L1199.5,536.5 L1200.5,536.5 L1201.5,536.5 L1201.5,533.5 L1202.5,536.5 L1202.5,535.5 L1203.5,536.5 L1204.5,536.5 L1204.5,530.5 L1205.5,536.5 L1205.5,536.5 L1206.5,535.5 L1207.5,534.5 L1207.5,536.5 L1208.5,516.5 L1208.5,527.5 L1209.5,534.5 L1210.5,532.5 L1210.5,534.5 L1211.5,536.5 L1211.5,533.5 L1212.5,533.5 L1212.5,536.5 L1213.5,535.5 L1214.5,536.5 L1214.5,536.5 L1215.5,536.5 L1215.5,533.5 L1216.5,536.5 L1217.5,536.5 L1217.5,536.5 L1218.5,536.5 L1218.5,533.5 L1219.5,535.5 L1220.5,530.5 L1220.5,536.5 L1221.5,533.5 L1221.5,531.5 L1222.5,536.5 L1223.5,536.5 L1223.5,536.5 L1224.5,536.5 L1224.5,534.5 L1225.5,536.5 L1225.5,533.5 L1226.5,536.5 L1227.5,536.5 L1227.5,499.5 L1228.5,517.5 L1228.5,536.5 L1229.5,536.5 L1230.5,534.5 L1230.5,533.5 L1231.5,536.5 L1231.5,530.5 L1232.5,536.5 L1233.5,536.5 L1233.5,536.5 L1234.5,536.5 L1234.5,530.5 L1235.5,536.5 L1236.5,535.5 L1236.5,536.5 L1237.5,535.5 L1237.5,535.5 L1238.5,536.5 L1238.5,536.5 L1239.5,536.5 L1240.5,536.5 L1240.5,525.5 L1241.5,532.5 L1241.5,531.5 L1242.5,536.5 L1243.5,529.5 L1243.5,532.5 L1244.5,536.5 L1244.5,534.5 L1245.5,533.5 L1246.5,533.5 L1246.5,536.5 L1247.5,529.5 L1247.5,530.5 L1248.5,535.5 L1248.5,536.5 L1249.5,536.5 L1250.5,536.5 L1250.5,533.5 L1251.5,536.5 L1251.5,536.5 L1252.5,536.5 L1253.5,535.5 L1253.5,534.5 L1254.5,536.5 L1254.5,535.5 L1255.5,535.5 L1256.5,534.5 L1256.5,536.5 L1257.5,534.5 L1257.5,535.5 L1258.5,536.5 L1259.5,536.5 L1259.5,536.5 L1260.5,536.5 L1260.5,532.5 L1261.5,529.5 L1261.5,536.5 L1262.5,534.5 L1263.5,534.5 L1263.5,536.5 L1264.5,532.5 L1264.5,533.5 L1265.5,501.5 L1266.5,522.5 L1266.5,529.5 L1267.5,533.5 L1267.5,536.5 L1268.5,533.5 L1269.5,532.5 L1269.5,536.5 L1270.5,535.5 L1270.5,529.5 L1271.5,536.5 L1272.5,536.5 L1272.5,536.5 L1273.5,536.5 L1273.5,533.5 L1274.5,534.5 L1274.5,535.5 L1275.5,536.5 L1276.5,535.5 L1276.5,536.5 L1277.5,531.5 L1277.5,536.5 L1278.5,534.5 L1279.5,535.5 L1279.5,536.5 L1280.5,530.5 L1280.5,515.5 L1281.5,529.5 L1282.5,536.5 L1282.5,535.5 L1283.5,536.5 L1283.5,534.5 L1284.5,536.5 L1285.5,534.5 L1285.5,536.5 L1286.5,529.5 L1286.5,536.5 L1287.5,533.5 L1287.5,534.5 L1288.5,536.5 L1289.5,536.5 L1289.5,532.5 L1290.5,536.5 L1290.5,533.5 L1291.5,533.5 L1292.5,534.5 L1292.5,536.5 L1293.5,536.5 L1293.5,533.5 L1294.5,536.5 L1295.5,536.5 L1295.5,533.5 L1296.5,534.5 L1296.5,529.5 L1297.5,536.5 L1297.5,523.5 L1298.5,536.5 L1299.5,536.5 L1299.5,536.5 L1300.5,533.5 L1300.5,536.5 L1301.5,535.5 L1302.5,536.5 L1302.5,536.5 L1303.5,535.5 L1303.5,536.5 L1304.5,535.5 L1305.5,536.5 L1305.5,535.5 L1306.5,536.5 L1306.5,536.5 L1307.5,535.5 L1308.5,536.5 L1308.5,536.5 L1309.5,536.5 L1309.5,532.5 L1310.5,536.5 L1310.5,536.5 L1311.5,534.5 L1312.5,536.5 L1312.5,536.5 L1313.5,536.5 L1313.5,536.5 L1314.5,536.5 L1315.5,533.5 L1315.5,533.5 L1316.5,534.5 L1316.5,535.5 L1317.5,504.5 L1318.5,527.5 L1318.5,536.5 L1319.5,536.5 L1319.5,536.5 L1320.5,536.5 L1321.5,534.5 L1321.5,532.5 L1322.5,536.5 L1322.5,533.5 L1323.5,536.5 L1323.5,536.5 L1324.5,529.5 L1325.5,534.5 L1325.5,534.5 L1326.5,536.5 L1326.5,536.5 L1327.5,536.5 L1328.5,533.5 L1328.5,536.5 L1329.5,532.5 L1329.5,533.5 L1330.5,532.5 L1331.5,536.5 L1331.5,534.5 L1332.5,536.5 L1332.5,536.5 L1333.5,535.5 L1334.5,530.5 L1334.5,535.5 L1335.5,536.5 L1335.5,536.5 L1336.5,536.5 L1336.5,535.5 L1337.5,533.5 L1338.5,535.5 L1338.5,531.5 L1339.5,536.5 L1339.5,533.5 L1340.5,535.5 L1341.5,534.5 L1341.5,536.5 L1342.5,536.5 L1342.5,536.5 L1343.5,536.5 L1344.5,536.5 L1344.5,536.5 L1345.5,536.5 L1345.5,528.5 L1346.5,536.5 L1346.5,536.5 L1347.5,536.5 L1348.5,532.5 L1348.5,536.5 L1349.5,536.5 L1349.5,535.5 L1350.5,529.5 L1351.5,508.5 L1351.5,519.5 L1352.5,529.5 L1352.5,534.5 L1353.5,536.5 L1354.5,533.5 L1354.5,534.5 L1355.5,536.5 L1355.5,501.5 L1356.5,527.5 L1357.5,536.5 L1357.5,536.5 L1358.5,536.5 L1358.5,535.5 L1359.5,535.5 L1359.5,534.5 L1360.5,532.5 L1361.5,535.5 L1361.5,534.5 L1362.5,533.5 L1362.5,534.5 L1363.5,536.5 L1364.5,532.5 L1364.5,536.5 L1365.5,536.5 L1365.5,536.5 L1366.5,536.5 L1367.5,535.5 L1367.5,536.5 L1368.5,532.5 L1368.5,536.5 M94.5,535.5 L94.5,536.5 L95.5,536.5 L96.5,530.5 L96.5,531.5 L97.5,532.5 L97.5,533.5 L98.5,532.5 L99.5,536.5 L99.5,536.5 L100.5,536.5 L100.5,536.5 L101.5,532.5 L101.5,533.5 L102.5,534.5 L103.5,536.5 L103.5,536.5 L104.5,532.5 L104.5,536.5 L105.5,534.5 L106.5,535.5 L106.5,536.5 L107.5,534.5 L107.5,536.5 L108.5,536.5 L109.5,536.5 L109.5,533.5 L110.5,531.5 L110.5,530.5 L111.5,536.5 L112.5,536.5 L112.5,536.5 L113.5,536.5 L113.5,536.5 L114.5,534.5 L114.5,530.5 L115.5,536.5 L116.5,536.5 L116.5,534.5 L117.5,531.5 L117.5,535.5 L118.5,529.5 L119.5,532.5 L119.5,533.5 L120.5,531.5 L120.5,536.5 L121.5,536.5 L122.5,534.5 L122.5,533.5 L123.5,536.5 L123.5,535.5 L124.5,534.5 L124.5,536.5 L125.5,526.5 L126.5,534.5 L126.5,536.5 L127.5,536.5 L127.5,536.5 L128.5,536.5 L129.5,536.5 L129.5,534.5 L130.5,530.5 L130.5,533.5 L131.5,496.5 L132.5,528.5 L132.5,528.5 L133.5,531.5 L133.5,529.5 L134.5,536.5 L135.5,535.5 L135.5,535.5 L136.5,536.5 L136.5,534.5 L137.5,532.5 L137.5,535.5 L138.5,536.5 L139.5,528.5 L139.5,536.5 L140.5,536.5 L140.5,536.5 L141.5,536.5 L142.5,534.5 L142.5,533.5 L143.5,536.5 L143.5,535.5 L144.5,536.5" stroke="#009e73" stroke-width="1" fill="none" shape-rendering="crispEdges"/><path d="M144.5,533.5 L201.6,533.5 M144.5,536.5 L201.6,536.5" stroke="#009e73" stroke-width="1" fill="none" shape-rendering="crispEdges"/><path d="M201.5,528.5 L202.5,534.5 L202.5,533.5 L203.5,526.5 L204.5,535.5 L204.5,528.5 L205.5,528.5 L205.5,535.5 L206.5,528.5 L207.5,536.5 L207.5,528.5 L208.5,528.5 L208.5,528.5 L209.5,533.5 L210.5,526.5 L210.5,528.5 L211.5,508.5 L211.5,528.5 L212.5,536.5 L212.5,526.5 L213.5,535.5 L214.5,528.5 L214.5,528.5 L215.5,527.5 L215.5,535.5 L216.5,528.5 L217.5,534.5 L217.5,528.5 L218.5,534.5 L218.5,528.5 L219.5,528.5 L220.5,533.5 L220.5,537.5 L221.5,528.5 L221.5,526.5 L222.5,528.5 L222.5,525.5 L223.5,528.5 L224.5,527.5 L224.5,525.5 L225.5,527.5 L225.5,528.5 L226.5,528.5 L227.5,534.5 L227.5,528.5 L228.5,533.5 L228.5,535.5 L229.5,527.5 L230.5,528.5 L230.5,533.5 L231.5,528.5 L231.5,531.5 L232.5,528.5 L233.5,533.5 L233.5,528.5 L234.5,531.5 L234.5,525.5 L235.5,535.5 L235.5,534.5 L236.5,528.5 L237.5,528.5 L237.5,533.5 L238.5,536.5 L238.5,532.5 L239.5,528.5 L240.5,525.5 L240.5,528.5 L241.5,528.5 L241.5,528.5 L242.5,535.5 L243.5,535.5 L243.5,536.5 L244.5,532.5 L244.5,533.5 L245.5,528.5 L246.5,532.5 L246.5,528.5 L247.5,528.5 L247.5,528.5 L248.5,528.5 L248.5,528.5 L249.5,535.5 L250.5,528.5 L250.5,528.5 L251.5,528.5 L251.5,528.5 L252.5,528.5 L253.5,525.5 L253.5,534.5 L254.5,532.5 L254.5,528.5 L255.5,535.5 L256.5,536.5 L256.5,537.5 L257.5,528.5 L257.5,528.5 L258.5,528.5 L259.5,535.5 L259.5,528.5 L260.5,533.5 L260.5,528.5 L261.5,528.5 L261.5,532.5 L262.5,536.5 L263.5,532.5 L263.5,534.5 L264.5,532.5 L264.5,528.5 L265.5,535.5 L266.5,528.5 L266.5,525.5 L267.5,526.5 L267.5,533.5 L268.5,536.5 L269.5,532.5 L269.5,528.5 L270.5,533.5 L270.5,528.5 L271.5,528.5 L271.5,535.5 L272.5,528.5 L273.5,535.5 L273.5,533.5 L274.5,534.5 L274.5,533.5 L275.5,525.5 L276.5,528.5 L276.5,528.5 L277.5,528.5 L277.5,528.5 L278.5,532.5 L279.5,537.5 L279.5,532.5 L280.5,528.5 L280.5,532.5 L281.5,536.5 L282.5,528.5 L282.5,533.5 L283.5,535.5 L283.5,534.5 L284.5,536.5 L284.5,527.5 L285.5,528.5 L286.5,535.5 L286.5,536.5 L287.5,528.5 L287.5,534.5 L288.5,528.5 L289.5,528.5 L289.5,532.5 L290.5,528.5 L290.5,528.5 L291.5,528.5 L292.5,528.5 L292.5,527.5 L293.5,528.5 L293.5,533.5 L294.5,536.5 L295.5,535.5 L295.5,528.5 L296.5,536.5 L296.5,527.5 L297.5,534.5 L297.5,534.5 L298.5,531.5 L299.5,531.5 L299.5,536.5 L300.5,536.5 L300.5,536.5 L301.5,528.5 L302.5,535.5 L302.5,535.5 L303.5,528.5 L303.5,532.5 L304.5,537.5 L305.5,528.5 L305.5,533.5 L306.5,528.5 L306.5,535.5 L307.5,533.5 L308.5,528.5 L308.5,527.5 L309.5,528.5 L309.5,533.5 L310.5,531.5 L310.5,535.5 L311.5,536.5 L312.5,528.5 L312.5,527.5 L313.5,534.5 L313.5,532.5 L314.5,534.5 L315.5,528.5 L315.5,535.5 L316.5,533.5 L316.5,528.5 L317.5,535.5 L318.5,532.5 L318.5,535.5 L319.5,532.5 L319.5,533.5 L320.5,527.5 L320.5,525.5 L321.5,527.5 L322.5,527.5 L322.5,528.5 L323.5,528.5 L323.5,532.5 L324.5,525.5 L325.5,536.5 L325.5,528.5 L326.5,536.5 L326.5,528.5 L327.5,531.5 L328.5,528.5 L328.5,528.5 L329.5,528.5 L329.5,528.5 L330.5,533.5 L331.5,528.5 L331.5,531.5 L332.5,535.5 L332.5,536.5 L333.5,528.5 L333.5,518.5 L334.5,536.5 L335.5,533.5 L335.5,526.5 L336.5,528.5 L336.5,532.5 L337.5,534.5 L338.5,528.5 L338.5,535.5 L339.5,528.5 L339.5,528.5 L340.5,528.5 L341.5,533.5 L341.5,525.5 L342.5,528.5 L342.5,525.5 L343.5,533.5 L344.5,533.5 L344.5,531.5 L345.5,528.5 L345.5,528.5 L346.5,535.5 L346.5,528.5 L347.5,528.5 L348.5,528.5 L348.5,533.5 L349.5,533.5 L349.5,532.5 L350.5,535.5 L351.5,528.5 L351.5,528.5 L352.5,525.5 L352.5,532.5 L353.5,534.5 L354.5,528.5 L354.5,528.5 L355.5,536.5 L355.5,528.5 L356.5,528.5 L356.5,528.5 L357.5,526.5 L358.5,528.5 L358.5,528.5 L359.5,532.5 L359.5,528.5 L360.5,534.5 L361.5,528.5 L361.5,532.5 L362.5,531.5 L362.5,536.5 L363.5,528.5 L364.5,528.5 L364.5,528.5 L365.5,528.5 L365.5,528.5 L366.5,532.5 L367.5,526.5 L367.5,525.5 L368.5,528.5 L368.5,534.5 L369.5,528.5 L369.5,532.5 L370.5,536.5 L371.5,528.5 L371.5,534.5 L372.5,536.5 L372.5,528.5 L373.5,528.5 L374.5,528.5 L374.5,528.5 L375.5,528.5 L375.5,528.5 L376.5,528.5 L377.5,525.5 L377.5,528.5 L378.5,528.5 L378.5,532.5 L379.5,528.5 L380.5,533.5 L380.5,535.5 L381.5,536.5 L381.5,534.5 L382.5,535.5 L382.5,533.5 L383.5,536.5 L384.5,528.5 L384.5,528.5 L385.5,526.5 L385.5,528.5 L386.5,535.5 L387.5,527.5 L387.5,527.5 L388.5,528.5 L388.5,528.5 L389.5,531.5 L390.5,528.5 L390.5,528.5 L391.5,533.5 L391.5,531.5 L392.5,531.5 L393.5,528.5 L393.5,536.5 L394.5,536.5 L394.5,528.5 L395.5,528.5 L395.5,528.5 L396.5,528.5 L397.5,527.5 L397.5,528.5 L398.5,537.5 L398.5,532.5 L399.5,532.5 L400.5,527.5 L400.5,532.5 L401.5,525.5 L401.5,532.5 L402.5,535.5 L403.5,528.5 L403.5,528.5 L404.5,528.5 L404.5,526.5 L405.5,536.5 L405.5,533.5 L406.5,528.5 L407.5,528.5 L407.5,528.5 L408.5,528.5 L408.5,532.5 L409.5,536.5 L410.5,536.5 L410.5,532.5 L411.5,534.5 L411.5,534.5 L412.5,534.5 L413.5,528.5 L413.5,535.5 L414.5,528.5 L414.5,528.5 L415.5,526.5 L416.5,535.5 L416.5,528.5 L417.5,528.5 L417.5,534.5 L418.5,528.5 L418.5,536.5 L419.5,527.5 L420.5,526.5 L420.5,535.5 L421.5,532.5 L421.5,536.5 L422.5,535.5 L423.5,528.5 L423.5,536.5 L424.5,528.5 L424.5,528.5 L425.5,533.5 L426.5,526.5 L426.5,536.5 L427.5,528.5 L427.5,536.5 L428.5,528.5 L429.5,528.5 L429.5,528.5 L430.5,535.5 L430.5,536.5 L431.5,528.5 L431.5,535.5 L432.5,528.5 L433.5,533.5 L433.5,536.5 L434.5,526.5 L434.5,528.5 L435.5,526.5 L436.5,536.5 L436.5,528.5 L437.5,528.5 L437.5,528.5 L438.5,536.5 L439.5,536.5 L439.5,528.5 L440.5,531.5 L440.5,526.5 L441.5,528.5 L442.5,537.5 L442.5,533.5 L443.5,533.5 L443.5,533.5 L444.5,531.5 L444.5,537.5 L445.5,526.5 L446.5,528.5 L446.5,532.5 L447.5,528.5 L447.5,533.5 L448.5,528.5 L449.5,532.5 L449.5,528.5 L450.5,528.5 L450.5,528.5 L451.5,528.5 L452.5,528.5 L452.5,534.5 L453.5,535.5 L453.5,534.5 L454.5,536.5 L454.5,534.5 L455.5,534.5 L456.5,528.5 L456.5,535.5 L457.5,528.5 L457.5,528.5 L458.5,532.5 L459.5,535.5 L459.5,535.5 L460.5,528.5 L460.5,533.5 L461.5,534.5 L462.5,535.5 L462.5,533.5 L463.5,528.5 L463.5,532.5 L464.5,528.5 L465.5,528.5 L465.5,536.5 L466.5,537.5 L466.5,528.5 L467.5,528.5 L467.5,528.5 L468.5,536.5 L469.5,528.5 L469.5,535.5 L470.5,534.5 L470.5,528.5 L471.5,528.5 L472.5,534.5 L472.5,531.5 L473.5,536.5 L473.5,532.5 L474.5,528.5 L475.5,528.5 L475.5,536.5 L476.5,519.5 L476.5,525.5 L477.5,535.5 L478.5,535.5 L478.5,527.5 L479.5,537.5 L479.5,533.5 L480.5,533.5 L480.5,528.5 L481.5,526.5 L482.5,528.5 L482.5,532.5 L483.5,528.5 L483.5,534.5 L484.5,537.5 L485.5,533.5 L485.5,528.5 L486.5,527.5 L486.5,534.5 L487.5,532.5 L488.5,525.5 L488.5,532.5 L489.5,534.5 L489.5,537.5 L490.5,528.5 L491.5,532.5 L491.5,531.5 L492.5,527.5 L492.5,533.5 L493.5,528.5 L493.5,535.5 L494.5,528.5 L495.5,533.5 L495.5,531.5 L496.5,527.5 L496.5,537.5 L497.5,528.5 L498.5,534.5 L498.5,535.5 L499.5,528.5 L499.5,528.5 L500.5,534.5 L501.5,532.5 L501.5,532.5 L502.5,535.5 L502.5,528.5 L503.5,536.5 L503.5,528.5 L504.5,526.5 L505.5,535.5 L505.5,532.5 L506.5,534.5 L506.5,528.5 L507.5,536.5 L508.5,528.5 L508.5,535.5 L509.5,532.5 L509.5,532.5 L510.5,533.5 L511.5,527.5 L511.5,528.5 L512.5,528.5 L512.5,536.5 L513.5,533.5 L514.5,528.5 L514.5,528.5 L515.5,528.5 L515.5,535.5 L516.5,536.5 L516.5,533.5 L517.5,527.5 L518.5,528.5 L518.5,528.5 L519.5,536.5 L519.5,532.5 L520.5,533.5 L521.5,534.5 L521.5,528.5 L522.5,528.5 L522.5,528.5 L523.5,528.5 L524.5,528.5 L524.5,528.5 L525.5,528.5 L525.5,525.5 L526.5,532.5 L527.5,528.5 L527.5,528.5 L528.5,528.5 L528.5,527.5 L529.5,528.5 L529.5,528.5 L530.5,535.5 L531.5,532.5 L531.5,528.5 L532.5,528.5 L532.5,528.5 L533.5,528.5 L534.5,528.5 L534.5,525.5 L535.5,533.5 L535.5,528.5 L536.5,528.5 L537.5,528.5 L537.5,531.5 L538.5,533.5 L538.5,528.5 L539.5,528.5 L540.5,536.5 L540.5,528.5 L541.5,534.5 L541.5,525.5 L542.5,528.5 L542.5,536.5 L543.5,533.5 L544.5,528.5 L544.5,536.5 L545.5,528.5 L545.5,532.5 L546.5,533.5 L547.5,532.5 L547.5,527.5 L548.5,528.5 L548.5,534.5 L549.5,534.5 L550.5,525.5 L550.5,532.5 L551.5,533.5 L551.5,528.5 L552.5,528.5 L552.5,528.5 L553.5,528.5 L554.5,533.5 L554.5,528.5 L555.5,527.5 L555.5,536.5 L556.5,532.5 L557.5,536.5 L557.5,534.5 L558.5,534.5 L558.5,534.5 L559.5,532.5 L560.5,525.5 L560.5,537.5 L561.5,528.5 L561.5,536.5 L562.5,528.5 L563.5,528.5 L563.5,533.5 L564.5,534.5 L564.5,526.5 L565.5,528.5 L565.5,533.5 L566.5,525.5 L567.5,528.5 L567.5,536.5 L568.5,536.5 L568.5,535.5 L569.5,534.5 L570.5,532.5 L570.5,528.5 L571.5,537.5 L571.5,536.5 L572.5,528.5 L573.5,528.5 L573.5,525.5 L574.5,532.5 L574.5,535.5 L575.5,525.5 L576.5,534.5 L576.5,532.5 L577.5,528.5 L577.5,535.5 L578.5,528.5 L578.5,528.5 L579.5,534.5 L580.5,534.5 L580.5,528.5 L581.5,532.5 L581.5,528.5 L582.5,528.5 L583.5,528.5 L583.5,527.5 L584.5,528.5 L584.5,533.5 L585.5,528.5 L586.5,527.5 L586.5,533.5 L587.5,536.5 L587.5,528.5 L588.5,528.5 L588.5,532.5 L589.5,526.5 L590.5,525.5 L590.5,526.5 L591.5,536.5 L591.5,534.5 L592.5,536.5 L593.5,535.5 L593.5,528.5 L594.5,536.5 L594.5,528.5 L595.5,528.5 L596.5,533.5 L596.5,536.5 L597.5,527.5 L597.5,528.5 L598.5,533.5 L599.5,536.5 L599.5,534.5 L600.5,528.5 L600.5,534.5 L601.5,537.5 L601.5,532.5 L602.5,534.5 L603.5,528.5 L603.5,528.5 L604.5,533.5 L604.5,527.5 L605.5,526.5 L606.5,528.5 L606.5,536.5 L607.5,527.5 L607.5,536.5 L608.5,528.5 L609.5,535.5 L609.5,528.5 L610.5,528.5 L610.5,528.5 L611.5,532.5 L612.5,528.5 L612.5,528.5 L613.5,528.5 L613.5,536.5 L614.5,535.5 L614.5,535.5 L615.5,533.5 L616.5,525.5 L616.5,536.5 L617.5,526.5 L617.5,533.5 L618.5,534.5 L619.5,528.5 L619.5,528.5 L620.5,528.5 L620.5,532.5 L621.5,528.5 L622.5,528.5 L622.5,528.5 L623.5,525.5 L623.5,535.5 L624.5,528.5 L625.5,533.5 L625.5,526.5 L626.5,526.5 L626.5,528.5 L627.5,527.5 L627.5,528.5 L628.5,535.5 L629.5,528.5 L629.5,528.5 L630.5,534.5 L630.5,531.5 L631.5,528.5 L632.5,528.5 L632.5,528.5 L633.5,528.5 L633.5,528.5 L634.5,528.5 L635.5,528.5 L635.5,535.5 L636.5,528.5 L636.5,528.5 L637.5,536.5 L637.5,536.5 L638.5,536.5 L639.5,533.5 L639.5,532.5 L640.5,532.5 L640.5,535.5 L641.5,537.5 L642.5,535.5 L642.5,525.5 L643.5,537.5 L643.5,528.5 L644.5,537.5 L645.5,526.5 L645.5,534.5 L646.5,535.5 L646.5,528.5 L647.5,528.5 L648.5,525.5 L648.5,526.5 L649.5,528.5 L649.5,532.5 L650.5,534.5 L650.5,535.5 L651.5,533.5 L652.5,532.5 L652.5,528.5 L653.5,528.5 L653.5,535.5 L654.5,528.5 L655.5,527.5 L655.5,528.5 L656.5,528.5 L656.5,528.5 L657.5,534.5 L658.5,528.5 L658.5,526.5 L659.5,528.5 L659.5,528.5 L660.5,528.5 L661.5,535.5 L661.5,528.5 L662.5,532.5 L662.5,528.5 L663.5,528.5 L663.5,527.5 L664.5,526.5 L665.5,531.5 L665.5,532.5 L666.5,528.5 L666.5,535.5 L667.5,535.5 L668.5,528.5 L668.5,533.5 L669.5,528.5 L669.5,537.5 L670.5,528.5 L671.5,532.5 L671.5,528.5 L672.5,528.5 L672.5,537.5 L673.5,535.5 L674.5,528.5 L674.5,535.5 L675.5,535.5 L675.5,526.5 L676.5,528.5 L676.5,526.5 L677.5,528.5 L678.5,528.5 L678.5,528.5 L679.5,532.5 L679.5,528.5 L680.5,534.5 L681.5,535.5 L681.5,528.5 L682.5,534.5 L682.5,528.5 L683.5,528.5 L684.5,528.5 L684.5,534.5 L685.5,528.5 L685.5,528.5 L686.5,528.5 L686.5,528.5 L687.5,527.5 L688.5,528.5 L688.5,528.5 L689.5,528.5 L689.5,535.5 L690.5,533.5 L691.5,533.5 L691.5,534.5 L692.5,528.5 L692.5,528.5 L693.5,535.5 L694.5,532.5 L694.5,534.5 L695.5,528.5 L695.5,527.5 L696.5,532.5 L697.5,532.5 L697.5,534.5 L698.5,528.5 L698.5,536.5 L699.5,527.5 L699.5,528.5 L700.5,525.5 L701.5,536.5 L701.5,528.5 L702.5,532.5 L702.5,528.5 L703.5,525.5 L704.5,528.5 L704.5,528.5 L705.5,528.5 L705.5,528.5 L706.5,509.5 L707.5,532.5 L707.5,528.5 L708.5,535.5 L708.5,534.5 L709.5,525.5 L710.5,528.5 L710.5,528.5 L711.5,525.5 L711.5,528.5 L712.5,527.5 L712.5,528.5 L713.5,528.5 L714.5,527.5 L714.5,528.5 L715.5,525.5 L715.5,526.5 L716.5,527.5 L717.5,528.5 L717.5,534.5 L718.5,527.5 L718.5,532.5 L719.5,528.5 L720.5,533.5 L720.5,527.5 L721.5,535.5 L721.5,528.5 L722.5,535.5 L723.5,528.5 L723.5,535.5 L724.5,528.5 L724.5,534.5 L725.5,528.5 L725.5,536.5 L726.5,532.5 L727.5,534.5 L727.5,528.5 L728.5,532.5 L728.5,528.5 L729.5,526.5 L730.5,528.5 L730.5,528.5 L731.5,535.5 L731.5,534.5 L732.5,528.5 L733.5,528.5 L733.5,528.5 L734.5,528.5 L734.5,528.5 L735.5,528.5 L735.5,528.5 L736.5,532.5 L737.5,533.5 L737.5,535.5 L738.5,532.5 L738.5,528.5 L739.5,528.5 L740.5,534.5 L740.5,532.5 L741.5,528.5 L741.5,536.5 L742.5,526.5 L743.5,534.5 L743.5,528.5 L744.5,534.5 L744.5,532.5 L745.5,534.5 L746.5,535.5 L746.5,534.5 L747.5,531.5 L747.5,536.5 L748.5,528.5 L748.5,532.5 L749.5,528.5 L750.5,528.5 L750.5,534.5 L751.5,528.5 L751.5,528.5 L752.5,532.5 L753.5,528.5 L753.5,526.5 L754.5,528.5 L754.5,526.5 L755.5,526.5 L756.5,528.5 L756.5,536.5 L757.5,536.5 L757.5,528.5 L758.5,528.5 L759.5,528.5 L759.5,528.5 L760.5,536.5 L760.5,528.5 L761.5,533.5 L761.5,527.5 L762.5,532.5 L763.5,527.5 L763.5,528.5 L764.5,528.5 L764.5,533.5 L765.5,533.5 L766.5,533.5 L766.5,532.5 L767.5,528.5 L767.5,528.5 L768.5,528.5 L769.5,535.5 L769.5,528.5 L770.5,532.5 L770.5,533.5 L771.5,537.5 L772.5,528.5 L772.5,537.5 L773.5,533.5 L773.5,528.5 L774.5,533.5 L774.5,528.5 L775.5,533.5 L776.5,528.5 L776.5,535.5 L777.5,527.5 L777.5,528.5 L778.5,533.5 L779.5,525.5 L779.5,528.5 L780.5,534.5 L780.5,532.5 L781.5,528.5 L782.5,528.5 L782.5,535.5 L783.5,528.5 L783.5,527.5 L784.5,536.5 L784.5,532.5 L785.5,525.5 L786.5,537.5 L786.5,528.5 L787.5,536.5 L787.5,536.5 L788.5,535.5 L789.5,534.5 L789.5,534.5 L790.5,528.5 L790.5,532.5 L791.5,528.5 L792.5,535.5 L792.5,525.5 L793.5,528.5 L793.5,528.5 L794.5,526.5 L795.5,534.5 L795.5,528.5 L796.5,533.5 L796.5,533.5 L797.5,531.5 L797.5,533.5 L798.5,527.5 L799.5,528.5 L799.5,536.5 L800.5,528.5 L800.5,528.5 L801.5,527.5 L802.5,528.5 L802.5,528.5 L803.5,531.5 L803.5,531.5 L804.5,528.5 L805.5,532.5 L805.5,525.5 L806.5,528.5 L806.5,528.5 L807.5,528.5 L808.5,528.5 L808.5,533.5 L809.5,533.5 L809.5,525.5 L810.5,532.5 L810.5,532.5 L811.5,534.5 L812.5,526.5 L812.5,525.5 L813.5,528.5 L813.5,528.5 L814.5,528.5 L815.5,528.5 L815.5,528.5 L816.5,528.5 L816.5,532.5 L817.5,537.5 L818.5,528.5 L818.5,528.5 L819.5,528.5 L819.5,536.5 L820.5,528.5 L821.5,536.5 L821.5,531.5 L822.5,527.5 L822.5,525.5 L823.5,525.5 L823.5,528.5 L824.5,526.5 L825.5,534.5 L825.5,526.5 L826.5,528.5 L826.5,528.5 L827.5,535.5 L828.5,533.5 L828.5,532.5 L829.5,534.5 L829.5,528.5 L830.5,527.5 L831.5,536.5 L831.5,537.5 L832.5,528.5 L832.5,528.5 L833.5,528.5 L833.5,533.5 L834.5,534.5 L835.5,532.5 L835.5,535.5 L836.5,528.5 L836.5,528.5 L837.5,536.5 L838.5,528.5 L838.5,528.5 L839.5,534.5 L839.5,528.5 L840.5,528.5 L841.5,533.5 L841.5,536.5 L842.5,534.5 L842.5,534.5 L843.5,535.5 L844.5,535.5 L844.5,528.5 L845.5,526.5 L845.5,534.5 L846.5,535.5 L846.5,537.5 L847.5,528.5 L848.5,534.5 L848.5,536.5 L849.5,528.5 L849.5,535.5 L850.5,528.5 L851.5,535.5 L851.5,532.5 L852.5,528.5 L852.5,526.5 L853.5,528.5 L854.5,536.5 L854.5,526.5 L855.5,525.5 L855.5,528.5 L856.5,528.5 L857.5,528.5 L857.5,534.5 L858.5,532.5 L858.5,528.5 L859.5,535.5 L859.5,535.5 L860.5,532.5 L861.5,533.5 L861.5,531.5 L862.5,528.5 L862.5,528.5 L863.5,533.5 L864.5,528.5 L864.5,528.5 L865.5,536.5 L865.5,533.5 L866.5,528.5 L867.5,534.5 L867.5,532.5 L868.5,535.5 L868.5,532.5 L869.5,536.5 L869.5,527.5 L870.5,535.5 L871.5,528.5 L871.5,535.5 L872.5,528.5 L872.5,532.5 L873.5,531.5 L874.5,533.5 L874.5,535.5 L875.5,525.5 L875.5,533.5 L876.5,534.5 L877.5,536.5 L877.5,533.5 L878.5,537.5 L878.5,528.5 L879.5,527.5 L880.5,532.5 L880.5,535.5 L881.5,535.5 L881.5,535.5 L882.5,528.5 L882.5,528.5 L883.5,528.5 L884.5,528.5 L884.5,534.5 L885.5,528.5 L885.5,535.5 L886.5,528.5 L887.5,537.5 L887.5,528.5 L888.5,528.5 L888.5,528.5 L889.5,528.5 L890.5,527.5 L890.5,528.5 L891.5,528.5 L891.5,535.5 L892.5,525.5 L893.5,526.5 L893.5,536.5 L894.5,532.5 L894.5,536.5 L895.5,528.5 L895.5,536.5 L896.5,528.5 L897.5,535.5 L897.5,534.5 L898.5,533.5 L898.5,528.5 L899.5,525.5 L900.5,527.5 L900.5,526.5 L901.5,528.5 L901.5,532.5 L902.5,528.5 L903.5,528.5 L903.5,536.5 L904.5,528.5 L904.5,528.5 L905.5,536.5 L906.5,534.5 L906.5,535.5 L907.5,528.5 L907.5,532.5 L908.5,528.5 L908.5,528.5 L909.5,528.5 L910.5,527.5 L910.5,525.5 L911.5,535.5 L911.5,536.5 L912.5,528.5 L913.5,528.5 L913.5,536.5 L914.5,528.5 L914.5,535.5 L915.5,532.5 L916.5,532.5 L916.5,535.5 L917.5,533.5 L917.5,528.5 L918.5,528.5 L918.5,528.5 L919.5,535.5 L920.5,532.5 L920.5,528.5 L921.5,527.5 L921.5,528.5 L922.5,528.5 L923.5,534.5 L923.5,534.5 L924.5,525.5 L924.5,528.5 L925.5,528.5 L926.5,528.5 L926.5,528.5 L927.5,527.5 L927.5,528.5 L928.5,532.5 L929.5,534.5 L929.5,528.5 L930.5,534.5 L930.5,531.5 L931.5,528.5 L931.5,533.5 L932.5,532.5 L933.5,532.5 L933.5,528.5 L934.5,532.5 L934.5,531.5 L935.5,525.5 L936.5,528.5 L936.5,528.5 L937.5,533.5 L937.5,528.5 L938.5,528.5 L939.5,528.5 L939.5,526.5 L940.5,535.5 L940.5,536.5 L941.5,528.5 L942.5,534.5 L942.5,533.5 L943.5,531.5 L943.5,528.5 L944.5,528.5 L944.5,527.5 L945.5,527.5 L946.5,528.5 L946.5,528.5 L947.5,537.5 L947.5,537.5 L948.5,535.5 L949.5,528.5 L949.5,535.5 L950.5,528.5 L950.5,528.5 L951.5,535.5 L952.5,526.5 L952.5,528.5 L953.5,528.5 L953.5,528.5 L954.5,536.5 L955.5,533.5 L955.5,528.5 L956.5,527.5 L956.5,533.5 L957.5,525.5 L957.5,532.5 L958.5,535.5 L959.5,531.5 L959.5,532.5 L960.5,526.5 L960.5,528.5 L961.5,528.5 L962.5,531.5 L962.5,531.5 L963.5,537.5 L963.5,528.5 L964.5,535.5 L965.5,532.5 L965.5,528.5 L966.5,532.5 L966.5,527.5 L967.5,528.5 L967.5,534.5 L968.5,533.5 L969.5,528.5 L969.5,528.5 L970.5,528.5 L970.5,528.5 L971.5,528.5 L972.5,532.5 L972.5,528.5 L973.5,535.5 L973.5,531.5 L974.5,528.5 L975.5,528.5 L975.5,532.5 L976.5,532.5 L976.5,526.5 L977.5,536.5 L978.5,528.5 L978.5,535.5 L979.5,534.5 L979.5,528.5 L980.5,528.5 L980.5,532.5 L981.5,528.5 L982.5,537.5 L982.5,528.5 L983.5,537.5 L983.5,535.5 L984.5,531.5 L985.5,536.5 L985.5,528.5 L986.5,534.5 L986.5,528.5 L987.5,534.5 L988.5,535.5 L988.5,528.5 L989.5,528.5 L989.5,526.5 L990.5,532.5 L991.5,526.5 L991.5,528.5 L992.5,526.5 L992.5,528.5 L993.5,533.5 L993.5,528.5 L994.5,534.5 L995.5,532.5 L995.5,528.5 L996.5,536.5 L996.5,528.5 L997.5,533.5 L998.5,528.5 L998.5,528.5 L999.5,528.5 L999.5,535.5 L1000.5,528.5 L1001.5,534.5 L1001.5,528.5 L1002.5,528.5 L1002.5,528.5 L1003.5,527.5 L1004.5,526.5 L1004.5,528.5 L1005.5,528.5 L1005.5,528.5 L1006.5,528.5 L1006.5,532.5 L1007.5,527.5 L1008.5,532.5 L1008.5,537.5 L1009.5,533.5 L1009.5,528.5 L1010.5,528.5 L1011.5,534.5 L1011.5,531.5 L1012.5,528.5 L1012.5,528.5 L1013.5,528.5 L1014.5,528.5 L1014.5,528.5 L1015.5,532.5 L1015.5,537.5 L1016.5,535.5 L1016.5,525.5 L1017.5,528.5 L1018.5,527.5 L1018.5,526.5 L1019.5,528.5 L1019.5,528.5 L1020.5,528.5 L1021.5,528.5 L1021.5,535.5 L1022.5,528.5 L1022.5,537.5 L1023.5,528.5 L1024.5,528.5 L1024.5,531.5 L1025.5,528.5 L1025.5,528.5 L1026.5,528.5 L1027.5,535.5 L1027.5,528.5 L1028.5,536.5 L1028.5,528.5 L1029.5,528.5 L1029.5,528.5 L1030.5,533.5 L1031.5,528.5 L1031.5,532.5 L1032.5,528.5 L1032.5,534.5 L1033.5,528.5 L1034.5,536.5 L1034.5,526.5 L1035.5,528.5 L1035.5,533.5 L1036.5,528.5 L1037.5,534.5 L1037.5,535.5 L1038.5,525.5 L1038.5,528.5 L1039.5,535.5 L1040.5,536.5 L1040.5,534.5 L1041.5,532.5 L1041.5,533.5 L1042.5,532.5 L1042.5,537.5 L1043.5,528.5 L1044.5,528.5 L1044.5,533.5 L1045.5,528.5 L1045.5,537.5 L1046.5,535.5 L1047.5,537.5 L1047.5,535.5 L1048.5,534.5 L1048.5,535.5 L1049.5,525.5 L1050.5,528.5 L1050.5,527.5 L1051.5,528.5 L1051.5,532.5 L1052.5,528.5 L1053.5,534.5 L1053.5,527.5 L1054.5,528.5 L1054.5,528.5 L1055.5,536.5 L1055.5,525.5 L1056.5,528.5 L1057.5,525.5 L1057.5,535.5 L1058.5,532.5 L1058.5,528.5 L1059.5,532.5 L1060.5,534.5 L1060.5,528.5 L1061.5,536.5 L1061.5,528.5 L1062.5,527.5 L1063.5,528.5 L1063.5,532.5 L1064.5,528.5 L1064.5,536.5 L1065.5,536.5 L1065.5,527.5 L1066.5,528.5 L1067.5,527.5 L1067.5,534.5 L1068.5,528.5 L1068.5,533.5 L1069.5,525.5 L1070.5,534.5 L1070.5,535.5 L1071.5,528.5 L1071.5,534.5 L1072.5,528.5 L1073.5,528.5 L1073.5,528.5 L1074.5,528.5 L1074.5,528.5 L1075.5,534.5 L1076.5,532.5 L1076.5,533.5 L1077.5,534.5 L1077.5,528.5 L1078.5,528.5 L1078.5,528.5 L1079.5,528.5 L1080.5,528.5 L1080.5,537.5 L1081.5,534.5 L1081.5,536.5 L1082.5,536.5 L1083.5,534.5 L1083.5,534.5 L1084.5,535.5 L1084.5,528.5 L1085.5,531.5 L1086.5,535.5 L1086.5,533.5 L1087.5,532.5 L1087.5,528.5 L1088.5,535.5 L1089.5,535.5 L1089.5,528.5 L1090.5,531.5 L1090.5,528.5 L1091.5,528.5 L1091.5,525.5 L1092.5,534.5 L1093.5,526.5 L1093.5,533.5 L1094.5,532.5 L1094.5,535.5 L1095.5,528.5 L1096.5,534.5 L1096.5,528.5 L1097.5,532.5 L1097.5,527.5 L1098.5,528.5 L1099.5,528.5 L1099.5,528.5 L1100.5,528.5 L1100.5,528.5 L1101.5,536.5 L1101.5,537.5 L1102.5,532.5 L1103.5,532.5 L1103.5,534.5 L1104.5,536.5 L1104.5,532.5 L1105.5,528.5 L1106.5,528.5 L1106.5,528.5 L1107.5,525.5 L1107.5,535.5 L1108.5,526.5 L1109.5,534.5 L1109.5,536.5 L1110.5,528.5 L1110.5,532.5 L1111.5,528.5 L1112.5,528.5 L1112.5,534.5 L1113.5,533.5 L1113.5,528.5 L1114.5,531.5 L1114.5,528.5 L1115.5,527.5 L1116.5,532.5 L1116.5,535.5 L1117.5,528.5 L1117.5,528.5 L1118.5,528.5 L1119.5,528.5 L1119.5,528.5 L1120.5,528.5 L1120.5,527.5 L1121.5,528.5 L1122.5,528.5 L1122.5,534.5 L1123.5,526.5 L1123.5,535.5 L1124.5,528.5 L1125.5,528.5 L1125.5,527.5 L1126.5,528.5 L1126.5,528.5 L1127.5,525.5 L1127.5,528.5 L1128.5,528.5 L1129.5,527.5 L1129.5,526.5 L1130.5,528.5 L1130.5,528.5 L1131.5,528.5 L1132.5,532.5 L1132.5,525.5 L1133.5,528.5 L1133.5,528.5 L1134.5,528.5 L1135.5,528.5 L1135.5,527.5 L1136.5,528.5 L1136.5,527.5 L1137.5,528.5 L1138.5,531.5 L1138.5,535.5 L1139.5,532.5 L1139.5,534.5 L1140.5,531.5 L1140.5,528.5 L1141.5,535.5 L1142.5,533.5 L1142.5,526.5 L1143.5,533.5 L1143.5,528.5 L1144.5,528.5 L1145.5,534.5 L1145.5,536.5 L1146.5,528.5 L1146.5,535.5 L1147.5,528.5 L1148.5,528.5 L1148.5,526.5 L1149.5,525.5 L1149.5,528.5 L1150.5,533.5 L1150.5,535.5 L1151.5,528.5 L1152.5,536.5 L1152.5,535.5 L1153.5,526.5 L1153.5,532.5 L1154.5,532.5 L1155.5,534.5 L1155.5,534.5 L1156.5,528.5 L1156.5,527.5 L1157.5,533.5 L1158.5,534.5 L1158.5,528.5 L1159.5,528.5 L1159.5,528.5 L1160.5,528.5 L1161.5,527.5 L1161.5,528.5 L1162.5,528.5 L1162.5,528.5 L1163.5,533.5 L1163.5,528.5 L1164.5,528.5 L1165.5,527.5 L1165.5,528.5 L1166.5,525.5 L1166.5,528.5 L1167.5,526.5 L1168.5,528.5 L1168.5,528.5 L1169.5,536.5 L1169.5,536.5 L1170.5,537.5 L1171.5,528.5 L1171.5,528.5 L1172.5,525.5 L1172.5,532.5 L1173.5,536.5 L1174.5,528.5 L1174.5,528.5 L1175.5,528.5 L1175.5,533.5 L1176.5,528.5 L1176.5,534.5 L1177.5,528.5 L1178.5,534.5 L1178.5,528.5 L1179.5,531.5 L1179.5,532.5 L1180.5,536.5 L1181.5,532.5 L1181.5,528.5 L1182.5,528.5 L1182.5,533.5 L1183.5,536.5 L1184.5,528.5 L1184.5,532.5 L1185.5,534.5 L1185.5,528.5 L1186.5,534.5 L1187.5,527.5 L1187.5,525.5 L1188.5,528.5 L1188.5,532.5 L1189.5,532.5 L1189.5,528.5 L1190.5,528.5 L1191.5,528.5 L1191.5,528.5 L1192.5,535.5 L1192.5,536.5 L1193.5,528.5 L1194.5,534.5 L1194.5,528.5 L1195.5,533.5 L1195.5,534.5 L1196.5,536.5 L1197.5,528.5 L1197.5,528.5 L1198.5,528.5 L1198.5,536.5 L1199.5,536.5 L1199.5,531.5 L1200.5,528.5 L1201.5,532.5 L1201.5,525.5 L1202.5,528.5 L1202.5,528.5 L1203.5,534.5 L1204.5,528.5 L1204.5,528.5 L1205.5,537.5 L1205.5,528.5 L1206.5,528.5 L1207.5,525.5 L1207.5,534.5 L1208.5,528.5 L1208.5,528.5 L1209.5,533.5 L1210.5,533.5 L1210.5,528.5 L1211.5,528.5 L1211.5,528.5 L1212.5,528.5 L1212.5,528.5 L1213.5,535.5 L1214.5,532.5 L1214.5,528.5 L1215.5,528.5 L1215.5,527.5 L1216.5,525.5 L1217.5,535.5 L1217.5,528.5 L1218.5,528.5 L1218.5,531.5 L1219.5,534.5 L1220.5,536.5 L1220.5,526.5 L1221.5,528.5 L1221.5,525.5 L1222.5,525.5 L1223.5,526.5 L1223.5,527.5 L1224.5,533.5 L1224.5,534.5 L1225.5,534.5 L1225.5,531.5 L1226.5,536.5 L1227.5,535.5 L1227.5,528.5 L1228.5,528.5 L1228.5,528.5 L1229.5,535.5 L1230.5,535.5 L1230.5,528.5 L1231.5,528.5 L1231.5,534.5 L1232.5,528.5 L1233.5,536.5 L1233.5,528.5 L1234.5,536.5 L1234.5,528.5 L1235.5,528.5 L1236.5,536.5 L1236.5,526.5 L1237.5,535.5 L1237.5,528.5 L1238.5,533.5 L1238.5,528.5 L1239.5,527.5 L1240.5,528.5 L1240.5,528.5 L1241.5,528.5 L1241.5,535.5 L1242.5,535.5 L1243.5,536.5 L1243.5,528.5 L1244.5,528.5 L1244.5,528.5 L1245.5,528.5 L1246.5,525.5 L1246.5,528.5 L1247.5,528.5 L1247.5,536.5 L1248.5,535.5 L1248.5,525.5 L1249.5,532.5 L1250.5,534.5 L1250.5,532.5 L1251.5,533.5 L1251.5,535.5 L1252.5,526.5 L1253.5,532.5 L1253.5,536.5 L1254.5,532.5 L1254.5,533.5 L1255.5,528.5 L1256.5,528.5 L1256.5,526.5 L1257.5,528.5 L1257.5,534.5 L1258.5,537.5 L1259.5,528.5 L1259.5,535.5 L1260.5,532.5 L1260.5,528.5 L1261.5,528.5 L1261.5,537.5 L1262.5,528.5 L1263.5,537.5 L1263.5,528.5 L1264.5,528.5 L1264.5,528.5 L1265.5,537.5 L1266.5,528.5 L1266.5,528.5 L1267.5,528.5 L1267.5,535.5 L1268.5,526.5 L1269.5,533.5 L1269.5,533.5 L1270.5,528.5 L1270.5,528.5 L1271.5,528.5 L1272.5,528.5 L1272.5,528.5 L1273.5,532.5 L1273.5,528.5 L1274.5,532.5 L1274.5,528.5 L1275.5,528.5 L1276.5,532.5 L1276.5,528.5 L1277.5,528.5 L1277.5,526.5 L1278.5,525.5 L1279.5,525.5 L1279.5,536.5 L1280.5,528.5 L1280.5,533.5 L1281.5,531.5 L1282.5,534.5 L1282.5,535.5 L1283.5,528.5 L1283.5,528.5 L1284.5,528.5 L1285.5,536.5 L1285.5,526.5 L1286.5,528.5 L1286.5,533.5 L1287.5,528.5 L1287.5,528.5 L1288.5,534.5 L1289.5,528.5 L1289.5,532.5 L1290.5,534.5 L1290.5,534.5 L1291.5,528.5 L1292.5,528.5 L1292.5,525.5 L1293.5,534.5 L1293.5,528.5 L1294.5,527.5 L1295.5,532.5 L1295.5,537.5 L1296.5,534.5 L1296.5,535.5 L1297.5,528.5 L1297.5,533.5 L1298.5,526.5 L1299.5,528.5 L1299.5,535.5 L1300.5,528.5 L1300.5,528.5 L1301.5,536.5 L1302.5,528.5 L1302.5,527.5 L1303.5,534.5 L1303.5,528.5 L1304.5,528.5 L1305.5,533.5 L1305.5,534.5 L1306.5,533.5 L1306.5,532.5 L1307.5,535.5 L1308.5,528.5 L1308.5,531.5 L1309.5,525.5 L1309.5,537.5 L1310.5,528.5 L1310.5,528.5 L1311.5,527.5 L1312.5,526.5 L1312.5,533.5 L1313.5,531.5 L1313.5,528.5 L1314.5,528.5 L1315.5,534.5 L1315.5,535.5 L1316.5,536.5 L1316.5,528.5 L1317.5,528.5 L1318.5,528.5 L1318.5,528.5 L1319.5,528.5 L1319.5,528.5 L1320.5,528.5 L1321.5,527.5 L1321.5,528.5 L1322.5,528.5 L1322.5,528.5 L1323.5,534.5 L1323.5,528.5 L1324.5,535.5 L1325.5,535.5 L1325.5,536.5 L1326.5,528.5 L1326.5,528.5 L1327.5,534.5 L1328.5,525.5 L1328.5,528.5 L1329.5,534.5 L1329.5,528.5 L1330.5,528.5 L1331.5,525.5 L1331.5,528.5 L1332.5,528.5 L1332.5,528.5 L1333.5,528.5 L1334.5,528.5 L1334.5,532.5 L1335.5,528.5 L1335.5,528.5 L1336.5,528.5 L1336.5,534.5 L1337.5,536.5 L1338.5,532.5 L1338.5,528.5 L1339.5,528.5 L1339.5,533.5 L1340.5,527.5 L1341.5,528.5 L1341.5,519.5 L1342.5,532.5 L1342.5,525.5 L1343.5,528.5 L1344.5,532.5 L1344.5,534.5 L1345.5,528.5 L1345.5,528.5 L1346.5,527.5 L1346.5,525.5 L1347.5,531.5 L1348.5,528.5 L1348.5,528.5 L1349.5,536.5 L1349.5,528.5 L1350.5,533.5 L1351.5,536.5 L1351.5,533.5 L1352.5,536.5 L1352.5,534.5 L1353.5,528.5 L1354.5,536.5 L1354.5,528.5 L1355.5,528.5 L1355.5,534.5 L1356.5,528.5 L1357.5,531.5 L1357.5,531.5 L1358.5,534.5 L1358.5,533.5 L1359.5,528.5 L1359.5,531.5 L1360.5,528.5 L1361.5,528.5 L1361.5,532.5 L1362.5,528.5 L1362.5,526.5 L1363.5,533.5 L1364.5,534.5 L1364.5,534.5 L1365.5,528.5 L1365.5,536.5 L1366.5,525.5 L1367.5,528.5 L1367.5,532.5 L1368.5,528.5 L1368.5,528.5 M94.5,534.5 L94.5,528.5 L95.5,536.5 L96.5,534.5 L96.5,532.5 L97.5,528.5 L97.5,528.5 L98.5,528.5 L99.5,525.5 L99.5,528.5 L100.5,535.5 L100.5,528.5 L101.5,534.5 L101.5,528.5 L102.5,528.5 L103.5,527.5 L103.5,528.5 L104.5,528.5 L104.5,528.5 L105.5,525.5 L106.5,536.5 L106.5,528.5 L107.5,535.5 L107.5,533.5 L108.5,526.5 L109.5,528.5 L109.5,528.5 L110.5,526.5 L110.5,528.5 L111.5,528.5 L112.5,528.5 L112.5,534.5 L113.5,528.5 L113.5,531.5 L114.5,528.5 L114.5,528.5 L115.5,528.5 L116.5,527.5 L116.5,535.5 L117.5,528.5 L117.5,534.5 L118.5,526.5 L119.5,528.5 L119.5,533.5 L120.5,536.5 L120.5,537.5 L121.5,528.5 L122.5,531.5 L122.5,528.5 L123.5,528.5 L123.5,528.5 L124.5,533.5 L124.5,535.5 L125.5,528.5 L126.5,528.5 L126.5,536.5 L127.5,526.5 L127.5,528.5 L128.5,528.5 L129.5,533.5 L129.5,527.5 L130.5,533.5 L130.5,528.5 L131.5,525.5 L132.5,528.5 L132.5,534.5 L133.5,534.5 L133.5,535.5 L134.5,528.5 L135.5,536.5 L135.5,528.5 L136.5,532.5 L136.5,528.5 L137.5,536.5 L137.5,528.5 L138.5,528.5 L139.5,528.5 L139.5,528.5 L140.5,528.5 L140.5,526.5 L141.5,533.5 L142.5,528.5 L142.5,536.5 L143.5,528.5 L143.5,527.5 L144.5,536.5" stroke="#56b4e9" stroke-width="1" fill="none" shape-rendering="crispEdges"/><path d="M144.5,527.5 L201.6,527.5" stroke="#56b4e9" stroke-width="1" fill="none" shape-rendering="crispEdges"/><use href="#mfs" x="200" y="487" shape-rendering="crispEdges"/><use href="#mfs" x="395" y="487" shape-rendering="crispEdges"/><use href="#mfs" x="619" y="487" shape-rendering="crispEdges"/><use href="#mfs" x="1138" y="487" shape-rendering="crispEdges"/><use href="#mos" x="200" y="433" shape-rendering="crispEdges"/><use href="#mc" x="96" y="514" shape-rendering="crispEdges"/><use href="#mc" x="143" y="511" shape-rendering="crispEdges"/><use href="#mc" x="202" y="512" shape-rendering="crispEdges"/><use href="#mc" x="249" y="512" shape-rendering="crispEdges"/><use href="#mc" x="255" y="512" shape-rendering="crispEdges"/><use href="#mc" x="302" y="511" shape-rendering="crispEdges"/><use href="#mc" x="308" y="506" shape-rendering="crispEdges"/><use href="#mc" x="356" y="511" shape-rendering="crispEdges"/><use href="#mc" x="361" y="511" shape-rendering="crispEdges"/><use href="#mc" x="408" y="509" shape-rendering="crispEdges"/><use href="#mc" x="415" y="511" shape-rendering="crispEdges"/><use href="#mc" x="461" y="510" shape-rendering="crispEdges"/><use href="#mc" x="468" y="511" shape-rendering="crispEdges"/><use href="#mc" x="515" y="510" shape-rendering="crispEdges"/><use href="#mc" x="521" y="509" shape-rendering="crispEdges"/><use href="#mc" x="568" y="509" shape-rendering="crispEdges"/><use href="#mc" x="574" y="510" shape-rendering="crispEdges"/><use href="#mc" x="621" y="509" shape-rendering="crispEdges"/><use href="#mc" x="627" y="509" shape-rendering="crispEdges"/><use href="#mc" x="674" y="514" shape-rendering="crispEdges"/><use href="#mc" x="680" y="510" shape-rendering="crispEdges"/><use href="#mc" x="727" y="507" shape-rendering="crispEdges"/><use href="#mc" x="733" y="516" shape-rendering="crispEdges"/><use href="#mc" x="780" y="508" shape-rendering="crispEdges"/><use href="#mc" x="786" y="485" shape-rendering="crispEdges"/><use href="#mc" x="833" y="509" shape-rendering="crispEdges"/><use href="#mc" x="840" y="513" shape-rendering="crispEdges"/><use href="#mc" x="886" y="511" shape-rendering="crispEdges"/><use href="#mc" x="893" y="511" shape-rendering="crispEdges"/><use href="#mc" x="940" y="514" shape-rendering="crispEdges"/><use href="#mc" x="946" y="512" shape-rendering="crispEdges"/><use href="#mc" x="992" y="508" shape-rendering="crispEdges"/><use href="#mc" x="998" y="508" shape-rendering="crispEdges"/><use href="#mc" x="1046" y="510" shape-rendering="crispEdges"/><use href="#mc" x="1052" y="510" shape-rendering="crispEdges"/><use href="#mc" x="1099" y="512" shape-rendering="crispEdges"/><use href="#mc" x="1105" y="511" shape-rendering="crispEdges"/><use href="#mc" x="1152" y="510" shape-rendering="crispEdges"/><use href="#mc" x="1158" y="512" shape-rendering="crispEdges"/><use href="#mc" x="1205" y="510" shape-rendering="crispEdges"/><use href="#mc" x="1211" y="507" shape-rendering="crispEdges"/><use href="#mc" x="1258" y="518" shape-rendering="crispEdges"/><use href="#mc" x="1265" y="517" shape-rendering="crispEdges"/><use href="#mc" x="1311" y="510" shape-rendering="crispEdges"/><use href="#mc" x="1318" y="519" shape-rendering="crispEdges"/><use href="#mc" x="1365" y="510" shape-rendering="crispEdges"/><use href="#md" x="96" y="539" shape-rendering="crispEdges"/><use href="#md" x="143" y="539" shape-rendering="crispEdges"/><use href="#md" x="202" y="539" shape-rendering="crispEdges"/><use href="#md" x="249" y="539" shape-rendering="crispEdges"/><use href="#md" x="255" y="539" shape-rendering="crispEdges"/><use href="#md" x="302" y="539" shape-rendering="crispEdges"/><use href="#md" x="308" y="539" shape-rendering="crispEdges"/><use href="#md" x="356" y="539" shape-rendering="crispEdges"/><use href="#md" x="361" y="539" shape-rendering="crispEdges"/><use href="#md" x="408" y="539" shape-rendering="crispEdges"/><use href="#md" x="415" y="539" shape-rendering="crispEdges"/><use href="#md" x="461" y="539" shape-rendering="crispEdges"/><use href="#md" x="468" y="539" shape-rendering="crispEdges"/><use href="#md" x="515" y="539" shape-rendering="crispEdges"/><use href="#md" x="521" y="539" shape-rendering="crispEdges"/><use href="#md" x="568" y="539" shape-rendering="crispEdges"/><use href="#md" x="574" y="539" shape-rendering="crispEdges"/><use href="#md" x="621" y="539" shape-rendering="crispEdges"/><use href="#md" x="627" y="539" shape-rendering="crispEdges"/><use href="#md" x="674" y="539" shape-rendering="crispEdges"/><use href="#md" x="680" y="539" shape-rendering="crispEdges"/><use href="#md" x="727" y="539" shape-rendering="crispEdges"/><use href="#md" x="733" y="539" shape-rendering="crispEdges"/><use href="#md" x="780" y="539" shape-rendering="crispEdges"/><use href="#md" x="786" y="539" shape-rendering="crispEdges"/><use href="#md" x="833" y="539" shape-rendering="crispEdges"/><use href="#md" x="840" y="539" shape-rendering="crispEdges"/><use href="#md" x="886" y="539" shape-rendering="crispEdges"/><use href="#md" x="893" y="539" shape-rendering="crispEdges"/><use href="#md" x="940" y="539" shape-rendering="crispEdges"/><use href="#md" x="946" y="539" shape-rendering="crispEdges"/><use href="#md" x="992" y="539" shape-rendering="crispEdges"/><use href="#md" x="998" y="539" shape-rendering="crispEdges"/><use href="#md" x="1046" y="539" shape-rendering="crispEdges"/><use href="#md" x="1052" y="539" shape-rendering="crispEdges"/><use href="#md" x="1099" y="539" shape-rendering="crispEdges"/><use href="#md" x="1105" y="539" shape-rendering="crispEdges"/><use href="#md" x="1152" y="539" shape-rendering="crispEdges"/><use href="#md" x="1158" y="539" shape-rendering="crispEdges"/><use href="#md" x="1205" y="539" shape-rendering="crispEdges"/><use href="#md" x="1211" y="539" shape-rendering="crispEdges"/><use href="#md" x="1258" y="539" shape-rendering="crispEdges"/><use href="#md" x="1265" y="539" shape-rendering="crispEdges"/><use href="#md" x="1311" y="539" shape-rendering="crispEdges"/><use href="#md" x="1318" y="539" shape-rendering="crispEdges"/><use href="#md" x="1365" y="539" shape-rendering="crispEdges"/><use href="#mt" x="200" y="464" shape-rendering="crispEdges"/><use href="#mt" x="395" y="464" shape-rendering="crispEdges"/><use href="#mp" x="200" y="421" shape-rendering="crispEdges"/><path d="M388,410.5 L402,410.5 M395.5,404 L395.5,417" stroke="#9400d3" stroke-width="1" fill="none" shape-rendering="crispEdges"/><path d="M388,412.5 L402,412.5 M396.5,406 L396.5,419" stroke="#9400d3" stroke-width="1" fill="none" shape-rendering="crispEdges"/><path d="M388,414.5 L402,414.5 M395.5,408 L395.5,421" stroke="#9400d3" stroke-width="1" fill="none" shape-rendering="crispEdges"/><path d="M388,417.5 L402,417.5 M396.5,411 L396.5,424" stroke="#9400d3" stroke-width="1" fill="none" shape-rendering="crispEdges"/><path d="M388,419.5 L402,419.5 M395.5,413 L395.5,426" stroke="#9400d3" stroke-width="1" fill="none" shape-rendering="crispEdges"/><path d="M388,421.5 L402,421.5 M396.5,415 L396.5,428" stroke="#9400d3" stroke-width="1" fill="none" shape-rendering="crispEdges"/><rect x="94.5" y="57.5" width="1275" height="482" fill="none" stroke="#000" stroke-width="1" shape-rendering="crispEdges"/><path d="M95,69.5 L101,69.5 M1369,69.5 L1363,69.5 M95,186.5 L101,186.5 M1369,186.5 L1363,186.5 M95,304.5 L101,304.5 M1369,304.5 L1363,304.5 M95,421.5 L101,421.5 M1369,421.5 L1363,421.5 M147.5,58 L147.5,61 M200.5,58 L200.5,64 M253.5,58 L253.5,61 M306.5,58 L306.5,64 M359.5,58 L359.5,61 M413.5,58 L413.5,64 M466.5,58 L466.5,61 M519.5,58 L519.5,64 M572.5,58 L572.5,61 M625.5,58 L625.5,64 M678.5,58 L678.5,61 M731.5,58 L731.5,64 M784.5,58 L784.5,61 M838.5,58 L838.5,64 M891.5,58 L891.5,61 M944.5,58 L944.5,64 M997.5,58 L997.5,61 M1050.5,58 L1050.5,64 M1103.5,58 L1103.5,61 M1156.5,58 L1156.5,64 M1210.5,58 L1210.5,61 M1263.5,58 L1263.5,64 M1316.5,58 L1316.5,61" stroke="#000" stroke-width="1" fill="none"/><text x="81" y="73" font-family="Liberation Sans" font-size="16" text-anchor="end">2000</text><text x="81" y="190" font-family="Liberation Sans" font-size="16" text-anchor="end">1500</text><text x="81" y="307.5" font-family="Liberation Sans" font-size="16" text-anchor="end">1000</text><text x="81" y="425" font-family="Liberation Sans" font-size="16" text-anchor="end">500</text><text x="81" y="542.8" font-family="Liberation Sans" font-size="16" text-anchor="end">0</text><text x="92.00" y="562" font-family="Liberation Sans" font-size="16" text-anchor="middle">00:00</text><text x="198.26" y="562" font-family="Liberation Sans" font-size="16" text-anchor="middle">02:00</text><text x="304.52" y="562" font-family="Liberation Sans" font-size="16" text-anchor="middle">04:00</text><text x="410.78" y="562" font-family="Liberation Sans" font-size="16" text-anchor="middle">06:00</text><text x="517.04" y="562" font-family="Liberation Sans" font-size="16" text-anchor="middle">08:00</text><text x="624.20" y="562" font-family="Liberation Sans" font-size="16" text-anchor="middle">10:00</text><text x="730.46" y="562" font-family="Liberation Sans" font-size="16" text-anchor="middle">12:00</text><text x="836.72" y="562" font-family="Liberation Sans" font-size="16" text-anchor="middle">14:00</text><text x="942.98" y="562" font-family="Liberation Sans" font-size="16" text-anchor="middle">16:00</text><text x="1049.24" y="562" font-family="Liberation Sans" font-size="16" text-anchor="middle">18:00</text><text x="1155.50" y="562" font-family="Liberation Sans" font-size="16" text-anchor="middle">20:00</text><text x="1261.76" y="562" font-family="Liberation Sans" font-size="16" text-anchor="middle">22:00</text><text x="1367.12" y="562" font-family="Liberation Sans" font-size="16" text-anchor="middle">00:00</text><text x="471.75" y="32.00" font-family="Liberation Sans" font-size="16" textLength="514.20" lengthAdjust="spacing" xml:space="preserve">pi25 Jul 08  near/far ICMP/TCP ping and curl times [No msmt 1AM-2AM]</text><text x="372.60" y="589.90" font-family="Liberation Sans" font-size="16" textLength="712.97" lengthAdjust="spacing" xml:space="preserve">&lt;-START at 2AM Yday, right to 12AM Tday-&gt;, then wrap left to 1AM Tday&lt;- [ignore connecting lines]</text><text transform="translate(17,298.5) rotate(-90)" font-family="Liberation Sans" font-size="16" text-anchor="middle">msec</text><text x="1108.50" y="76.60" font-family="Liberation Sans" font-size="16" textLength="183.22" lengthAdjust="spacing" xml:space="preserve">&quot;Ypingresult.txt&quot; using 1:2</text><path d="M1303,73.5 L1350,73.5" stroke="#9400d3" stroke-width="1" fill="none" shape-rendering="crispEdges"/><text x="1090.60" y="95.70" font-family="Liberation Sans" font-size="16" textLength="200.91" lengthAdjust="spacing" xml:space="preserve">&quot;YTimetcpping.txt&quot; using 1:2</text><path d="M1303,92.5 L1350,92.5" stroke="#009e73" stroke-width="1" fill="none" shape-rendering="crispEdges"/><text x="1041.70" y="114.80" font-family="Liberation Sans" font-size="16" textLength="249.70" lengthAdjust="spacing" xml:space="preserve">&quot;YCustPingSiteTimes.txt&quot; using 1:2</text><path d="M1303,111.5 L1350,111.5" stroke="#56b4e9" stroke-width="1" fill="none" shape-rendering="crispEdges"/><text x="1095.50" y="133.90" font-family="Liberation Sans" font-size="16" textLength="195.68" lengthAdjust="spacing" xml:space="preserve">&quot;Yofflineresult.txt&quot; using 1:2</text><use href="#mos" x="1326" y="130" shape-rendering="crispEdges"/><text x="1084.00" y="153.00" font-family="Liberation Sans" font-size="16" textLength="207.74" lengthAdjust="spacing" xml:space="preserve">&quot;Ytcpoff_record.txt&quot; using 1:2</text><use href="#mfs" x="1326" y="149" shape-rendering="crispEdges"/><text x="1121.00" y="172.10" font-family="Liberation Sans" font-size="16" textLength="170.37" lengthAdjust="spacing" xml:space="preserve">&quot;Ycurltime.txt&quot; using 1:2</text><use href="#mc" x="1326" y="168" shape-rendering="crispEdges"/><text x="1094.80" y="191.20" font-family="Liberation Sans" font-size="16" textLength="196.36" lengthAdjust="spacing" xml:space="preserve">&quot;Ycurldnstime.txt&quot; using 1:2</text><use href="#md" x="1326" y="187" shape-rendering="crispEdges"/><text x="1054.50" y="210.30" font-family="Liberation Sans" font-size="16" textLength="236.57" lengthAdjust="spacing" xml:space="preserve">&quot;YCustPingTimeout.txt&quot; using 1:2</text><use href="#mt" x="1326" y="206" shape-rendering="crispEdges"/><text x="1084.50" y="229.40" font-family="Liberation Sans" font-size="16" textLength="206.46" lengthAdjust="spacing" xml:space="preserve">&quot;YHPpingresult.txt&quot; using 1:2</text><use href="#mp" x="1326" y="225" shape-rendering="crispEdges"/></svg></body></html>
